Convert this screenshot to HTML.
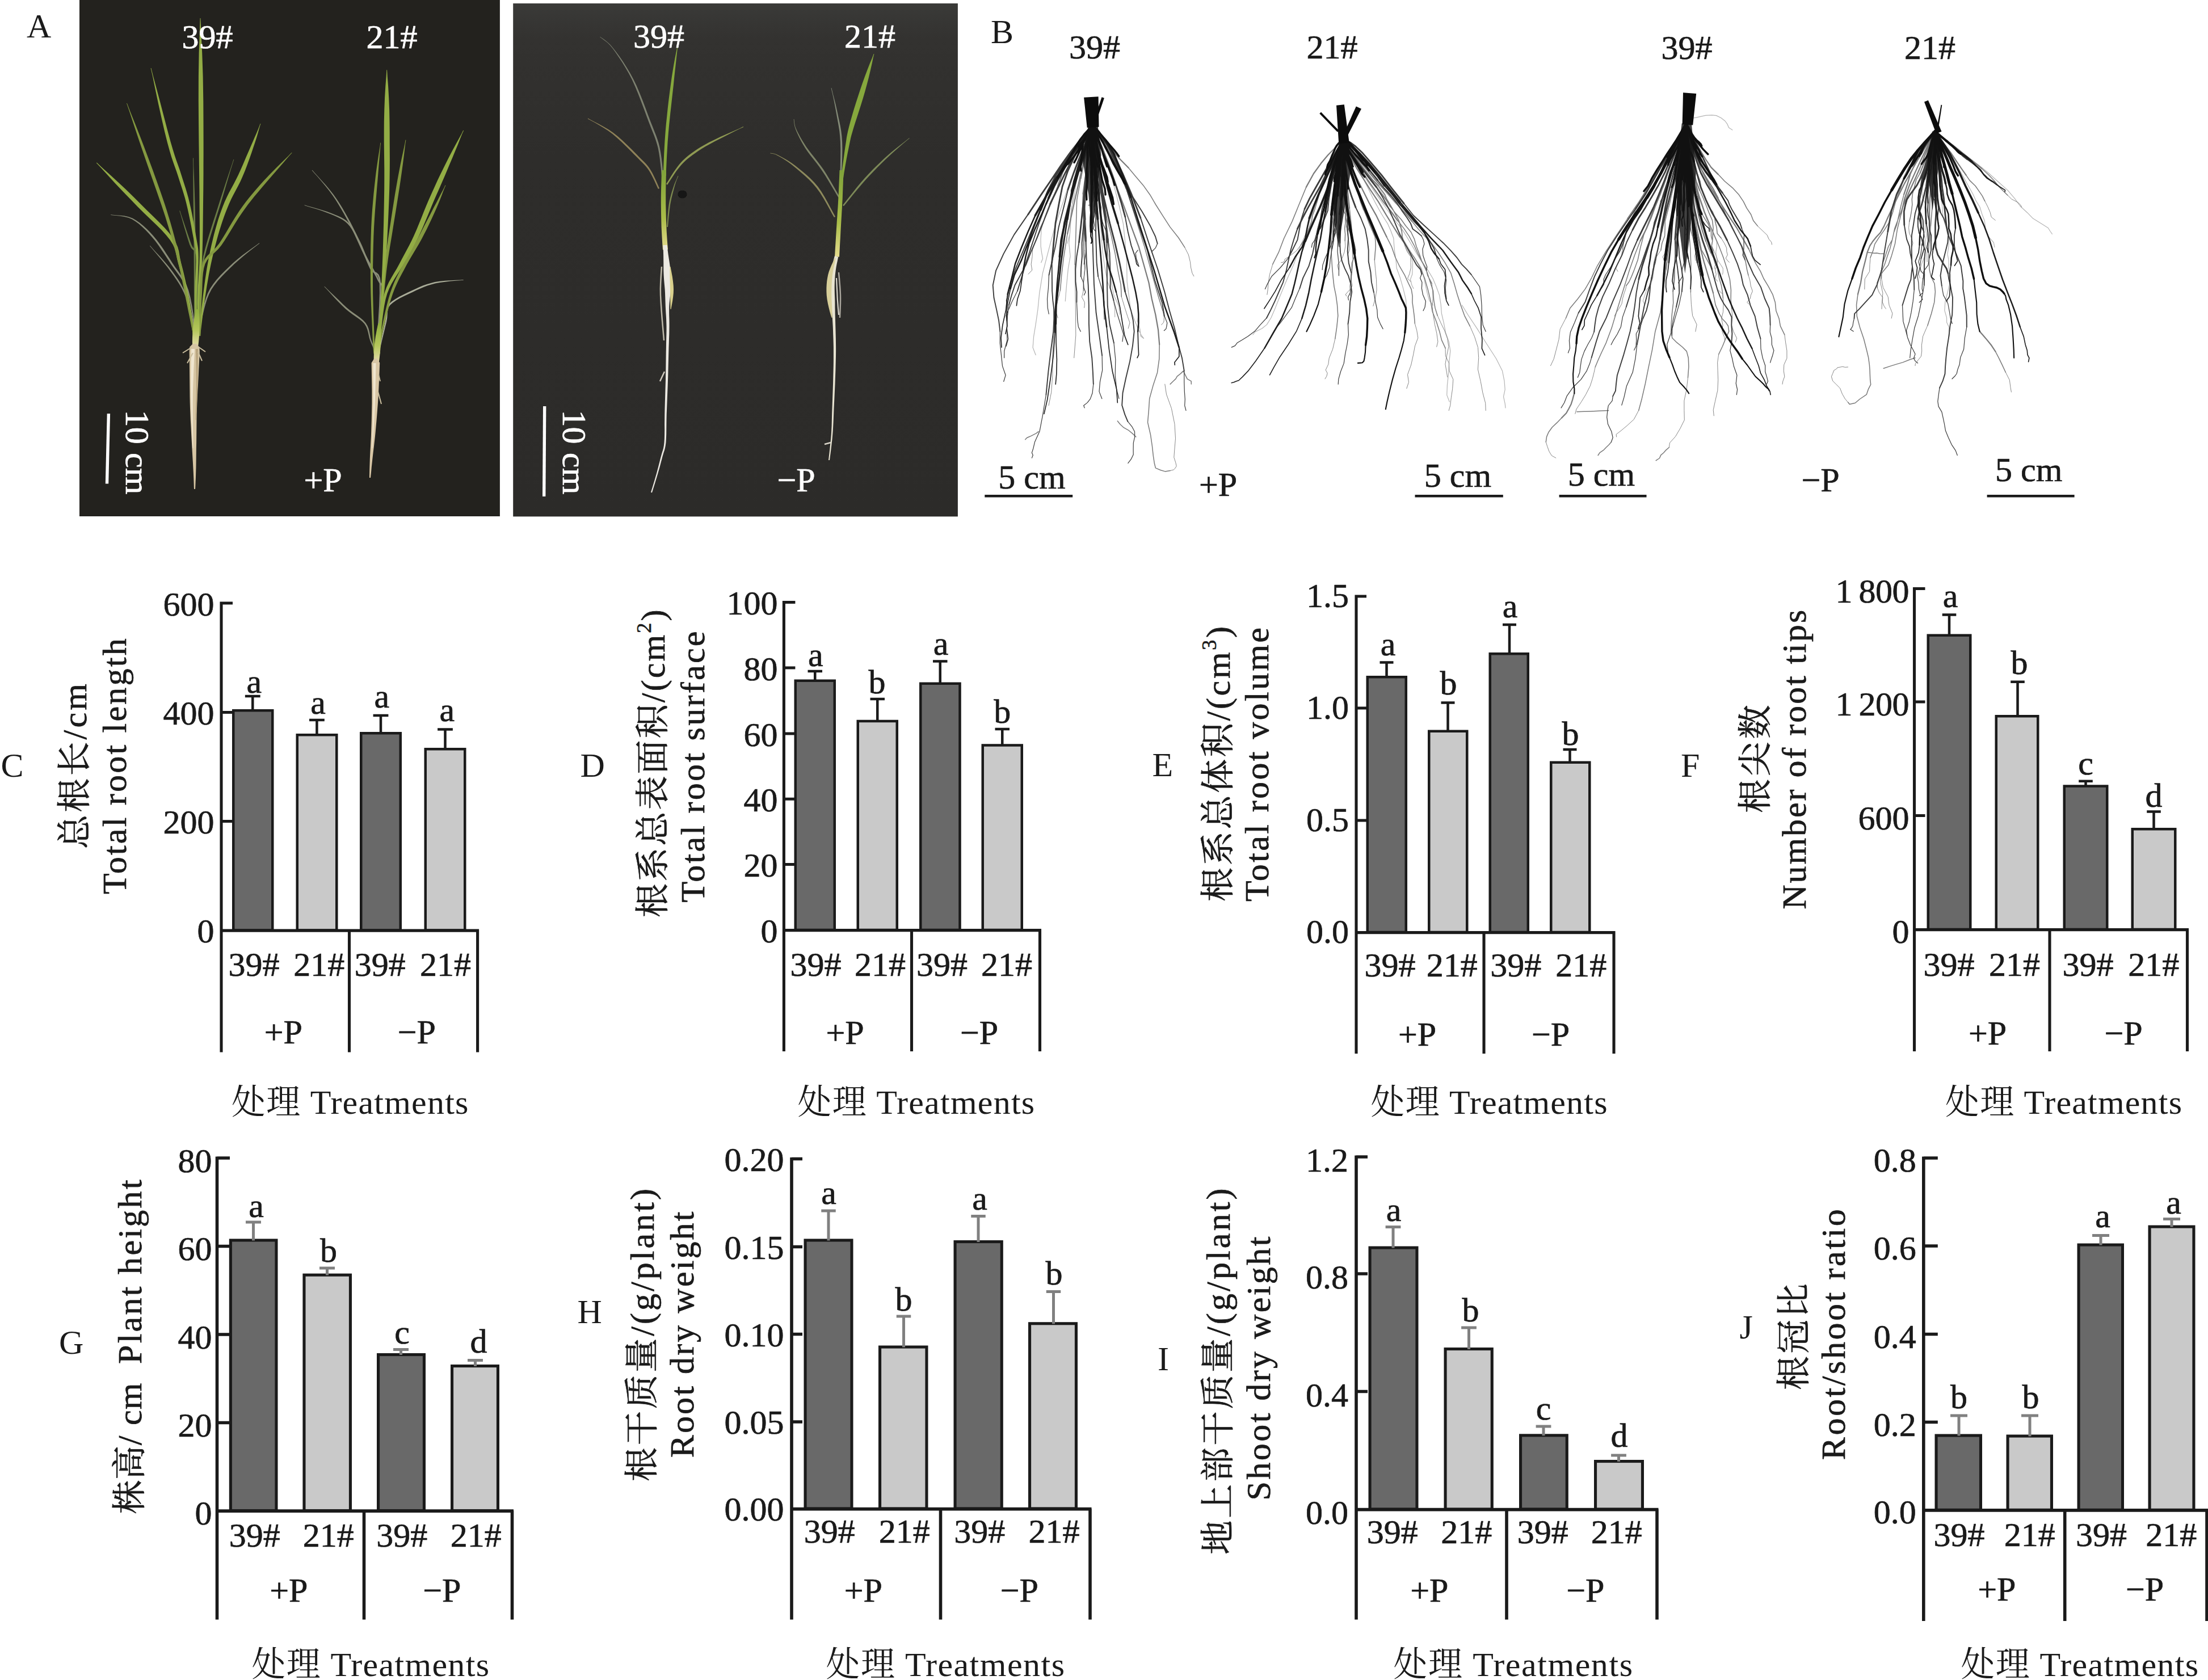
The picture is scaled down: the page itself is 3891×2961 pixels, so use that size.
<!DOCTYPE html>
<html lang="zh">
<head>
<meta charset="utf-8">
<title>Figure</title>
<style>
html,body{margin:0;padding:0;background:#fff;}
body{width:3891px;height:2961px;overflow:hidden;}
svg{display:block;}
text{font-family:"Liberation Serif","Noto Serif CJK SC",serif;font-size:60px;fill:#1a1a1a;stroke:#1a1a1a;stroke-width:0.7px;stroke-linejoin:round;}
.t{stroke:none;}
.w{fill:#fff;stroke:#fff;}
.ax{stroke:#1a1a1a;fill:none;stroke-linecap:butt;}
.bd{fill:#696969;stroke:#1a1a1a;}
.bl{fill:#c9c9c9;stroke:#1a1a1a;}
.ek{stroke:#1a1a1a;fill:none;}
.eg{stroke:#808080;fill:none;}
</style>
</head>
<body>
<svg width="3891" height="2961" viewBox="0 0 3891 2961">
<defs>
<linearGradient id="stemg" x1="0" y1="0" x2="0" y2="1">
<stop offset="0" stop-color="#7fa23a"/><stop offset="0.6" stop-color="#a9bd48"/><stop offset="1" stop-color="#e6dc8e"/>
</linearGradient>
<linearGradient id="crowng" x1="0" y1="0" x2="0" y2="1">
<stop offset="0" stop-color="#8fae3e"/><stop offset="0.55" stop-color="#b4c65a"/><stop offset="1" stop-color="#e9dfb0"/>
</linearGradient>
<linearGradient id="bg2" x1="0" y1="0" x2="0" y2="1">
<stop offset="0" stop-color="#3a3a38"/><stop offset="0.07" stop-color="#333230"/><stop offset="0.3" stop-color="#2e2d2b"/><stop offset="1" stop-color="#2c2b29"/>
</linearGradient>
<filter id="soft" x="-5%" y="-5%" width="110%" height="110%"><feGaussianBlur stdDeviation="0.7"/></filter>
</defs>
<g id="panelA">
<rect x="140" y="0" width="740.9" height="910" fill="#23221e"/>
<rect x="904.2" y="6" width="783.7" height="904.4" fill="url(#bg2)"/>
<g filter="url(#soft)">
<path d="M346 591.9L344.6 582.8L342.9 569.9L340.9 554.8L338.4 539L335.5 524.1L332.2 511.6L328.4 501.6L323.9 493L319.1 485.3L314 478.1L308.8 471L303.7 463.4L298.5 455.3L293 446.9L287.5 438.6L281.8 430.4L276 422.7L270.2 415.7L264.3 409.3L258.3 403.3L252.3 397.7L246.2 392.7L240 388.4L233.7 384.8L226.9 382.3L219.5 380.6L212.1 379.7L205.2 379.2L199.4 378.7L195.2 378.2L195.2 379L199.3 379.5L205.1 380L212 380.7L219.2 382L226.4 383.8L232.9 386.6L238.8 390.2L244.7 394.6L250.6 399.7L256.4 405.3L262.1 411.3L267.8 417.7L273.5 424.6L279.2 432.3L284.8 440.4L290.4 448.7L295.8 457L301.1 465.2L306.4 472.7L311.6 479.9L316.7 486.9L321.5 494.4L325.9 502.7L329.8 512.4L333.2 524.7L336.1 539.4L338.7 555.1L340.9 570.2L342.7 583.1L344 592.1Z" fill="#8a8d78"/>
<path d="M346 591.8L344.3 584.1L342.1 573.3L339.5 560.5L336.5 547.1L333.2 534.3L329.7 523.4L326.1 514.4L322.2 506.4L318 499.1L313.5 492.1L308.6 485.1L303.4 477.8L297.2 469.8L290 461.2L282.3 452.6L275 444.7L268.9 438L264.6 433L264 433.6L268.3 438.5L274.2 445.4L281.1 453.7L288.4 462.5L295.4 471.3L301.4 479.4L306.5 486.6L311.3 493.5L315.8 500.4L319.9 507.6L323.8 515.4L327.5 524.2L331 534.9L334.3 547.6L337.4 561L340.1 573.7L342.3 584.5L344 592.2Z" fill="#8a8d78"/>
<path d="M351 592.1L351.4 588.8L351.9 584.5L352.5 579.3L353.3 573.4L354.5 567L356.1 560.2L357.9 552.9L359.9 544.6L362.2 535.9L364.9 527L368.4 518.4L372.6 510.2L377.9 502.4L384.1 494.6L391 487L398.3 479.5L405.7 472.3L412.9 465.3L420.6 458.4L429 451.2L437.6 444.3L445.6 437.9L452.4 432.7L457.3 428.9L456.9 428.3L451.9 432.1L444.9 437.1L436.6 443L427.7 449.5L419 456.4L411.1 463.3L403.7 470.2L396.2 477.4L388.8 485L381.8 492.7L375.6 500.7L370.2 508.8L365.9 517.3L362.5 526.2L359.8 535.2L357.6 544.1L355.7 552.3L353.9 559.8L352.4 566.6L351.3 573.1L350.5 579L349.9 584.3L349.4 588.6L349 591.9Z" fill="#8a8d78"/>
<path d="M351 592L351.2 584.1L351.3 573.2L351.6 560.2L351.9 546.4L352.4 532.6L353.2 520.1L353.9 508.9L354.6 498.3L355.4 487.8L356.6 477L358.3 465.5L360.9 452.7L364.5 438.3L369 422.4L374.2 405.7L379.5 388.8L384.6 372.5L389.3 357.4L393.7 342.7L398.1 327.7L402.4 313.3L406.3 300.1L409.7 289.2L412.3 281.1L411.5 280.9L409 288.9L405.4 299.8L401 312.8L396.3 327.1L391.4 342L386.7 356.6L381.9 371.7L376.6 387.9L371.3 404.8L366.2 421.5L361.7 437.5L358.1 452.1L355.6 465L353.9 476.7L352.8 487.5L352.1 498.1L351.5 508.7L350.8 519.9L350.2 532.5L349.8 546.3L349.5 560.2L349.3 573.2L349.2 584.1L349 592Z" fill="#6b7d45"/>
<path d="M344 592L344 572.5L344.1 545.2L344.3 513L344.4 478.9L344.5 445.8L344.4 416.7L344.1 389.9L343.6 362.8L342.8 336.7L342 313L341.2 293.2L340.9 278.6L340.1 278.6L340.4 293.2L340.4 313L340.6 336.7L340.8 362.8L341.1 390L341.4 416.7L341.6 445.8L341.8 478.9L341.9 513L342 545.2L342 572.5L342 592Z" fill="#6b7d45"/>
<path d="M346 592L346.5 576.4L347.3 553.8L348.3 527.6L349.2 500.9L349.5 477.1L349.2 459.4L348.1 448.8L346.4 442.8L344.1 439.6L341.8 437.8L339.6 435.5L337.1 430.5L334 421.7L330.3 410.9L326.3 399.1L322.5 387.8L319.2 378.1L317.1 371.3L316.3 371.5L318.5 378.4L321.3 388.2L324.6 399.7L328.1 411.6L331.4 422.6L334.3 431.5L337 437.2L339.7 440.1L341.9 441.8L343.5 444.1L345 449.3L346 459.6L346.4 477.1L346.3 500.8L345.8 527.5L345.1 553.8L344.4 576.3L344 592Z" fill="#6b7d45"/>
<path d="M343.5 591.7L343.4 591.3L343.3 591.2L343.3 591.1L343.1 590L342.7 587.5L342 583.1L340.9 576.1L339.6 567L338.1 556.5L336.5 545.2L334.7 534L332.8 523.4L330.8 513.3L328.6 502.9L326.3 492.5L323.9 482.3L321.5 472.6L319.2 463.7L317.4 455.8L316.2 448.9L315 442.2L313.1 435.3L309.9 427.9L304.9 419.6L298 410.6L289.6 401.1L280 391.2L269.6 381L258.7 370.4L247.7 359.4L235.2 347.1L220.9 333.1L205.8 319L191.4 305.8L179.1 294.7L170.5 286.6L169.9 287.2L178 295.8L189.2 308.1L202.4 322.4L216.6 337.4L230.5 351.8L242.7 364.4L253.8 375.4L264.8 386L275.2 396.1L284.8 405.6L293.1 414.7L299.9 423.2L304.6 430.7L307.6 437.3L309.5 443.5L310.8 449.9L312.2 456.9L314.2 464.9L316.8 473.9L319.4 483.5L322 493.5L324.5 503.8L327 514.1L329.2 524.2L331.2 534.6L333.2 545.8L335 557L336.6 567.5L337.9 576.5L339 583.5L339.7 588L340.2 590.5L340.4 591.7L340.5 592.1L340.5 592L340.5 592.3Z" fill="#93ad45"/>
<path d="M344.4 591.5L344.2 590.9L343.9 590.5L343.7 590.1L343.4 589L342.8 586.8L342 583L340.9 577.6L339.5 570.9L338 563.1L336.3 554.5L334.5 545.1L332.6 535.4L330.7 524.8L328.6 513.3L326.3 501.1L324 488.6L321.5 476L318.9 463.8L316.1 451.8L313.2 439.9L310.2 428L307 416L303.7 404L300.3 392.1L296.9 380.9L293.8 370.7L290.5 360.5L286.7 349.3L282.2 336.3L276.6 320.4L269.1 299.5L259.6 273.9L249.2 246.5L238.9 220.2L229.9 197.7L223.9 181.9L223.1 182.1L228.7 198.2L236.2 221.1L245.2 248L254.7 275.7L263.6 301.5L271 322.4L276.5 338.2L281 351.2L284.8 362.3L288.2 372.5L291.5 382.6L294.9 393.7L298.5 405.6L302 417.4L305.3 429.3L308.5 441.1L311.6 453L314.5 464.8L317.3 476.9L320 489.4L322.6 501.9L325 514L327.2 525.5L329.4 536L331.3 545.8L333.2 555.1L335 563.7L336.5 571.5L337.9 578.2L339 583.6L339.9 587.4L340.5 589.8L340.9 591.2L341.3 591.9L341.5 592.1L341.6 592.5Z" fill="#84993f"/>
<path d="M347.5 592L347.4 584.1L347.1 573.1L346.9 560.2L346.7 546.3L346.6 532.6L346.7 520L347.1 508.2L347.8 496.1L348.5 484L349.2 472.5L349.7 461.8L349.8 452.4L349.6 444.8L349.2 438.8L348.5 433.7L347.6 428.7L346.6 423.2L345.4 416.3L343.9 407.5L342.2 397.6L340.2 387.1L338.2 376.3L336 365.9L333.8 356.3L331.7 347.7L329.5 339.9L327.2 332.3L324.8 324.8L322.3 317L319.6 308.6L316.9 300.1L314.1 292.1L311.2 283.9L308 274.6L304.5 263.3L300.4 249.2L295.3 230.2L289.1 206.5L282.4 180.8L275.8 156L270.1 134.8L266.4 119.9L265.6 120.1L269.1 135.1L273.5 156.6L278.8 181.7L284.5 207.6L290 231.6L294.8 250.8L298.7 265L302.1 276.4L305.3 285.9L308.2 294.2L311 302.1L313.8 310.4L316.5 318.9L319 326.7L321.4 334.1L323.7 341.6L326 349.3L328.2 357.7L330.4 367.1L332.7 377.5L334.9 388.1L337 398.6L338.8 408.5L340.4 417.1L341.8 424.1L342.9 429.6L343.8 434.4L344.5 439.3L345 445L345.4 452.4L345.4 461.7L345.1 472.3L344.6 483.8L344 495.9L343.5 508L343.3 520L343.3 532.6L343.5 546.4L343.8 560.3L344.1 573.2L344.3 584.1L344.5 592Z" fill="#93ad45"/>
<path d="M350.6 592L350.7 584.1L350.8 573.2L350.9 560.3L351.1 546.4L351.4 532.6L351.8 520.1L352.4 508.9L353.2 498.4L354 488L354.9 477.2L355.7 465.4L356.3 452.1L356.8 437L357.2 420.5L357.5 403L357.7 385.1L357.9 367.3L358.1 350L358.3 334.6L358.4 320.9L358.5 307.2L358.5 292L358.6 273.5L358.6 250L358.5 217.9L358.3 178L357.6 134.7L356.2 92.9L354.5 57.1L353.4 32L352.6 32L351.8 57.1L350.6 92.9L349.9 134.8L349.8 178L350.1 218L350.4 250L350.7 273.5L350.9 292L351.1 307.3L351.2 320.9L351.4 334.6L351.5 350L351.6 367.3L351.8 385.1L351.9 403L351.9 420.4L351.9 436.9L351.7 451.9L351.3 465.1L350.7 476.9L350 487.7L349.3 498.2L348.6 508.7L348.2 519.9L347.9 532.6L347.7 546.3L347.6 560.2L347.5 573.2L347.5 584.1L347.4 592Z" fill="#93ad45"/>
<path d="M352.5 592.4L352.5 592.2L352.4 592.4L352.7 591.7L352.9 590.5L353.3 588L353.9 583.5L354.7 576.5L355.8 567.4L357.1 556.9L358.5 545.7L360 534.5L361.5 524.1L363 514.2L364.5 504.3L366.2 494.4L367.9 484.6L369.8 474.7L371.8 464.9L374 454.9L376.4 444.7L379 434.6L381.6 424.6L384.2 415L386.9 405.8L389.6 397.3L392.2 389.2L394.9 381.5L397.7 373.9L400.7 366.4L403.9 358.7L407.4 351L411.2 343.5L415.2 336L419.3 328.2L423.5 319.9L427.5 311.1L431.5 301.5L435.5 290.9L439.5 280L443.3 269.3L446.6 259.3L449.5 250.7L451.9 243.3L453.9 236.5L455.6 230.6L457 225.4L458.3 221.3L459.4 218.1L458.6 217.9L457.5 221L456 225.1L454 230L451.6 235.7L448.8 242.1L445.7 249.3L442.1 257.6L437.9 267.2L433.4 277.6L428.9 288.2L424.4 298.5L420.1 307.9L416 316.3L411.9 324.3L407.7 332L403.6 339.6L399.7 347.4L396.1 355.3L392.9 363.3L390 371L387.2 378.8L384.6 386.8L382.2 395L379.7 403.8L377.2 413.1L374.8 422.9L372.4 433L370.2 443.3L368.1 453.6L366.2 463.7L364.4 473.7L362.9 483.7L361.4 493.7L360.1 503.6L358.8 513.6L357.5 523.5L356.3 534.1L355 545.3L353.8 556.5L352.7 567.1L351.7 576.1L350.9 583.1L350.3 587.6L350 590.1L349.8 591L349.9 590.8L349.7 591.1L349.5 591.6Z" fill="#93ad45"/>
<path d="M353.5 592L353.7 584L353.9 572.8L354.2 559.5L354.6 545.5L355.1 532L355.8 520.1L356.3 509.6L356.6 499.5L357.1 489.8L357.9 480.8L359.3 472.6L361.5 465.1L364.7 458.9L368.7 454L373.4 449.4L378.7 444.8L384.4 439.3L390 432.5L395.7 424.1L401.7 414.6L407.8 404.5L414 394.3L420.1 384.4L426.2 375.4L431.9 367.4L437.3 360.1L442.7 353.2L448.4 346.1L454.6 338.7L461.5 330.4L470 320.5L480 309.1L490.4 297.1L500.2 285.7L508.5 276L514.6 269.3L514 268.7L507.8 275.3L498.6 284.2L487.9 294.8L476.8 306.1L466.3 317.1L457.5 326.8L450.3 335L444 342.5L438.2 349.5L432.7 356.6L427.2 364L421.4 372.2L415.4 381.4L409.2 391.4L403.1 401.7L397.1 411.9L391.4 421.3L386 429.5L380.7 436L375.5 441.3L370.3 446L365.3 450.9L361 456.5L357.5 463.5L355.2 471.6L353.8 480.4L353.1 489.6L352.8 499.3L352.6 509.5L352.2 519.9L351.8 531.8L351.4 545.4L351.1 559.4L350.9 572.7L350.7 583.9L350.5 592Z" fill="#84993f"/>
<path d="M345.3 544.8L344.6 548L343.8 552.3L342.8 557.4L341.9 563L341 568.9L340.3 574.7L339.7 580.9L339.3 587.9L339 595.1L338.9 601.9L339 607.6L339.2 611.7L348.8 612.3L349.4 608.2L350.1 602.4L350.7 595.7L351.2 588.5L351.6 581.5L351.7 575.3L351.7 569.6L351.6 563.7L351.4 558L351.2 552.8L350.9 548.4L350.7 545.2Z" fill="url(#crowng)"/>
<path d="M339.7 605.9L334.3 611.6L333.7 619.6L333.8 629.1L333.9 639.4L334 649.9L334.1 659.9L334.2 669.5L334.3 679.4L334.4 689.5L334.5 699.7L334.7 709.9L335 720L335.4 730.2L335.8 740.5L336.4 750.7L336.9 760.8L337.4 770.7L337.9 780.1L338.4 789.2L338.9 798.1L339.4 806.8L339.9 815.1L340.3 822.9L340.7 830L341 836.8L341.3 843.2L341.5 849.1L341.7 854.4L341.8 858.7L342 862L344 862L344.2 858.7L344.4 854.4L344.6 849.1L344.9 843.2L345.1 836.7L345.3 830L345.5 822.8L345.6 815L345.7 806.7L345.8 798L345.9 789L346.1 779.9L346.2 770.5L346.3 760.6L346.4 750.5L346.5 740.3L346.7 730.1L347 720L347.4 710L347.8 699.9L348.3 689.8L348.9 679.7L349.4 669.8L349.9 660.1L350.3 650.2L350.9 639.7L351.4 629.4L351.8 619.9L351.4 612L346.3 606.1Z" fill="#d6c5a3"/>
<path d="M337 614.9L336.9 624.1L336.6 636.8L336.4 651.8L336.2 668.1L336.1 684.5L336.2 700L336.6 715.8L337.1 733L337.8 750.3L338.5 766.5L339.1 780.2L339.5 790L340.5 790L340.4 780.1L340.2 766.5L339.9 750.3L339.8 732.9L339.7 715.7L339.8 700L340.1 684.6L340.7 668.2L341.3 651.9L342 636.9L342.6 624.3L343 615.1Z" fill="#f0e6d0"/>
<path d="M345 615L345.1 622.1L345.3 632L345.5 643.8L345.6 656.3L345.8 668.7L345.8 680L345.7 691L345.5 702.6L345.2 714L344.9 724.6L344.7 733.5L344.5 740L345.5 740L345.8 733.6L346.3 724.7L346.8 714.1L347.4 702.6L347.8 691L348.2 680L348.5 668.7L348.7 656.3L348.8 643.7L348.9 632L348.9 622.1L349 615Z" fill="#b9a57f"/>
<path d="M322 622L338 612M362 620L349 611M330 640L340 622M356 636L349 620" stroke="#cbbf9f" stroke-width="2" fill="none"/>
<path d="M664.3 623.4L665.6 610.9L667.6 592.7L669.8 571.6L672 550.1L673.7 530.9L674.6 516.7L674.7 508.2L674.2 503.2L673.2 500.4L671.7 498.6L670 496.7L667.9 492.7L665 486.8L661.5 480.2L657.5 473.1L653.2 465.5L648.9 457.5L644.6 449.3L640.5 440.6L636.2 431.2L631.8 421.5L627.3 411.6L622.7 401.9L618 392.7L613.2 383.9L608.3 375.3L603.4 366.8L598.3 358.6L593 350.6L587.5 342.7L581.2 334.7L574.1 326.3L566.8 318.2L560.1 310.7L554.4 304.4L550.3 299.7L549.7 300.3L553.8 304.9L559.5 311.3L566.1 318.9L573 327.2L579.8 335.8L585.9 343.9L591.2 351.8L596.3 359.9L601.2 368.2L606 376.6L610.7 385.2L615.4 394L620 403.2L624.6 412.9L629.1 422.7L633.5 432.5L637.8 441.9L642 450.7L646.3 458.9L650.7 466.9L655 474.4L659 481.5L662.6 488L665.5 493.9L667.8 498.1L669.8 500.4L670.9 501.7L671.7 503.7L672.1 508.2L672.1 516.6L671.3 530.8L669.7 549.9L667.7 571.3L665.5 592.5L663.6 610.7L662.3 623.2Z" fill="#8a8d78"/>
<path d="M664.3 623.4L665.3 608.9L667 587.9L668.8 563.4L670.5 538.6L671.4 516.4L671.3 499.9L669.9 489.9L667.5 483.9L664.2 480.7L660.7 478.9L657.6 476.8L654.6 472.6L651.5 466L648.3 458.2L644.9 449.9L641.5 441.4L638.1 433.3L634.7 426L631.4 419.5L628.3 413.3L625.2 407.4L621.9 401.9L618.3 396.9L614.3 392.4L609.9 388.6L605.4 385.4L600.5 382.8L595.4 380.5L589.8 378.2L583.7 375.8L576.3 373.1L567.5 370.3L558.3 367.6L549.5 365.1L542.1 362.9L536.8 361.3L536.5 362L541.8 363.7L549.3 365.9L558 368.6L567.1 371.6L575.7 374.7L583 377.6L589 380.1L594.5 382.5L599.5 384.9L604 387.5L608.3 390.6L612.4 394.3L616.2 398.6L619.6 403.5L622.7 408.8L625.7 414.6L628.8 420.8L632 427.3L635.3 434.5L638.7 442.5L642.2 451L645.5 459.3L648.9 467.1L652.1 474L655.6 478.8L659.3 481.3L662.5 483L665.1 485.4L667.3 490.5L668.7 500.1L668.9 516.4L668.1 538.5L666.6 563.3L664.9 587.7L663.3 608.7L662.3 623.3Z" fill="#8a8d78"/>
<path d="M664.2 622.9L663.2 620.5L661.7 617.1L659.9 613.1L658 608.7L656.1 604.1L654.4 599.6L653 595.1L652 590.1L651 584.9L649.6 579.6L647.5 574.3L644.4 569.2L640.1 564.5L635 560.2L629.3 556L623.2 551.7L617 547.2L611 542.2L604.4 536.2L597.1 529.1L589.5 521.8L582.3 514.9L576.2 509L572 504.7L571.4 505.3L575.6 509.6L581.3 515.8L588 523.2L595.3 530.9L602.5 538.2L609 544.4L615.2 549.6L621.5 554.2L627.6 558.4L633.3 562.4L638.2 566.5L642.3 570.8L645.2 575.5L647.2 580.4L648.6 585.5L649.7 590.6L650.8 595.6L652.3 600.4L654.1 604.9L656.1 609.5L658 614L659.8 617.9L661.3 621.3L662.4 623.7Z" fill="#8a8d78"/>
<path d="M667.6 623.6L669.2 617.1L671.4 607.9L673.9 597.1L676.6 585.9L679.1 575.5L681.2 566.9L682.3 560.2L682.7 554.5L682.9 549.7L683.5 545.5L684.9 541.6L687.7 537.6L692.3 533.4L698.3 529.3L705.3 525.3L712.8 521.6L720.3 518L727.3 514.7L733.8 511.6L740.2 508.7L746.6 506L753 503.6L759.8 501.4L766.9 499.5L775.2 498L784.5 496.7L794.2 495.6L803.4 494.7L811.1 494.2L816.7 493.7L816.6 492.9L811.1 493.4L803.3 493.8L794.1 494.2L784.4 494.8L774.8 495.8L766.4 497.1L759.1 498.9L752.1 501L745.5 503.3L739 506L732.6 508.9L726 512L719 515.3L711.4 518.9L703.9 522.8L696.8 526.9L690.5 531.2L685.6 535.8L682.5 540.4L680.9 544.9L680.4 549.5L680.2 554.4L679.9 559.9L678.8 566.4L676.9 575L674.5 585.4L671.9 596.6L669.4 607.4L667.2 616.6L665.7 623.1Z" fill="#a9ac98"/>
<path d="M661.5 623.2L661.3 621.5L661.1 619.9L660.9 617.8L660.6 614.2L660.2 608.5L659.9 599.9L659.4 587.7L658.8 572.3L658.1 554.7L657.6 536.1L657.1 517.5L657 500L657 483.1L657.2 466.1L657.5 449L657.9 432.2L658.4 415.8L659.1 400.1L660 385.1L661 370.5L662.1 356.4L663.3 342.7L664.4 329.5L665.5 316.9L666.5 304.2L667.5 291.4L668.6 279.1L669.5 267.9L670.3 258.6L671.1 251.7L670.3 251.6L669.5 258.5L668 267.8L666.3 278.8L664.5 291.1L662.7 303.8L661.2 316.5L659.8 329.1L658.4 342.2L657.2 355.9L656 370.1L655 384.8L654.2 399.9L653.7 415.6L653.2 432L653 448.9L652.8 466L652.9 483.1L653 500L653.4 517.6L654 536.2L654.8 554.9L655.6 572.4L656.3 587.8L656.8 600.1L657.2 608.7L657.6 614.4L657.9 618.1L658.1 620.3L658.3 621.9L658.5 623.5Z" fill="#84993f"/>
<path d="M666.5 623.4L666.6 621.4L666.7 619L666.9 615.9L667.2 612L667.6 606.8L668.2 600.1L669 591.5L670.1 581.1L671.3 569.5L672.6 557.3L674 545.1L675.2 533.5L676.4 522.4L677.5 511.3L678.6 500.2L679.8 489.1L681 478L682.4 467L683.9 456.1L685.5 445.4L687.2 434.8L689 423.9L690.9 412.5L692.8 400.4L694.9 387.4L697.2 373.4L699.5 359L701.8 344.6L704 330.4L706 317.1L707.9 303.8L709.8 290.1L711.5 276.7L713 264.5L714.2 254.2L715.4 246.7L714.6 246.6L713.3 254.1L711.1 264.2L708.5 276.2L705.7 289.4L703.1 303L700.6 316.2L698.3 329.5L695.9 343.6L693.6 358.1L691.3 372.5L689.2 386.5L687.2 399.6L685.3 411.6L683.6 423L681.9 434L680.4 444.7L679 455.4L677.6 466.4L676.4 477.5L675.3 488.7L674.3 499.8L673.4 510.9L672.4 522L671.5 533.1L670.4 544.8L669.2 557L668 569.2L666.9 580.8L665.9 591.2L665.1 599.9L664.6 606.5L664.2 611.7L663.9 615.7L663.7 618.8L663.6 621.2L663.5 623.2Z" fill="#84993f"/>
<path d="M668.1 623.6L668.8 619.5L669.5 614.2L670.5 607.7L671.7 600.4L673.1 592.3L674.9 583.7L677.1 573.9L679.7 562.9L682.5 551.1L685.6 539.2L688.8 527.7L692.2 517.4L695.7 508.2L699.5 499.7L703.4 491.6L707.5 483.7L711.7 475.9L715.9 468L720.2 460.2L724.6 452.7L729.2 445.1L733.7 437.5L738.3 429.7L742.9 421.5L747.4 412.8L752.1 403.7L756.6 394.3L761 385L765.1 376L768.8 367.7L772.3 359.6L775.6 351.6L778.6 343.8L781.2 336.8L783.5 331L785.4 326.8L784.6 326.5L782.7 330.7L779.9 336.2L776.4 342.8L772.6 350.2L768.6 357.9L764.5 365.6L760.3 373.7L755.8 382.4L751.1 391.5L746.3 400.8L741.7 409.8L737.1 418.5L732.7 426.5L728.2 434.3L723.8 441.9L719.3 449.6L714.9 457.3L710.7 465.3L706.6 473.3L702.6 481.2L698.6 489.2L694.8 497.6L691.2 506.4L687.8 515.9L684.6 526.5L681.6 538.1L678.7 550.2L676.1 562.1L673.8 573.2L671.7 583L670 591.7L668.6 599.9L667.5 607.3L666.5 613.7L665.8 619.1L665.2 623.1Z" fill="#84993f"/>
<path d="M661.9 623.8L662.1 624.5L662.5 627.1L663 629.9L666.3 630.3L667.2 626.3L668.2 616.8L669.6 599.9L671.4 576.8L673.5 549.7L675.7 520.9L677.7 492.5L679.5 466.8L681 443.2L682.4 419.9L683.6 397L684.6 374.8L685.5 353.5L686.2 333.4L686.6 314.9L686.8 297.9L686.9 281.8L686.8 266.1L686.7 250.2L686.7 233.3L686.5 214.3L686.1 193.3L685.2 172.1L684.1 152.2L682.8 135.4L682.1 123.3L681.3 123.3L680.6 135.4L679.3 152.2L678.1 172.1L677.3 193.3L676.8 214.3L676.7 233.3L676.7 250.2L676.9 266.2L677.1 281.9L677.3 297.9L677.3 314.8L677.2 333.2L676.9 353.3L676.5 374.6L676 396.7L675.4 419.6L674.7 442.9L673.8 466.5L672.7 492.2L671.2 520.6L669.6 549.5L668 576.5L666.4 599.6L665.1 616.5L664.2 626L663.5 629.2L665.8 628.9L665.4 626.7L665.1 624L664.8 622.9Z" fill="#93ad45"/>
<path d="M669.8 623.4L669.9 619.3L670 614L670.1 607.5L670.3 600.2L670.8 592.1L671.6 583.5L672.7 573.7L673.9 562.7L675.4 550.9L677.2 539L679.5 527.6L682.3 517.4L685.9 508.4L690.1 500L694.8 492.1L699.7 484.3L704.7 476.4L709.6 468.3L714.1 460.1L718.7 452.2L723.3 444.3L727.8 436.1L732.4 427.6L737 418.4L741.6 408.6L746.1 398.3L750.5 387.7L755 376.9L759.5 366L764.1 355.1L768.9 344.1L773.9 332.8L778.9 321.3L783.8 309.9L788.5 298.8L793 288.1L797.6 277.2L802.2 265.9L806.8 254.9L810.8 244.8L814.2 236.3L817 230.2L816.3 229.8L813.4 235.8L808.9 243.9L803.7 253.4L798 263.9L792.3 274.8L787 285.3L781.8 295.7L776.5 306.6L771.1 317.8L765.9 329.2L760.8 340.5L755.9 351.5L751.2 362.5L746.7 373.5L742.4 384.4L738.1 395L733.9 405.2L729.6 414.9L725.4 424L721.1 432.5L716.7 440.7L712.4 448.8L708.1 456.8L703.8 465.1L699.3 473.2L694.6 481.1L689.8 489.2L685.2 497.5L681.1 506.4L677.7 515.9L675 526.6L673 538.3L671.5 550.4L670.3 562.3L669.3 573.4L668.4 583.2L667.6 591.9L667.2 600.1L667 607.5L666.9 613.9L666.9 619.3L666.8 623.3Z" fill="#93ad45"/>
<path d="M666.5 569.7L665.8 572.8L664.9 577.1L663.8 582.1L662.8 587.7L661.7 593.6L660.9 599.6L660.1 606.1L659.4 613.7L658.9 621.5L658.7 628.9L658.6 635.2L658.6 639.7L667.4 640.3L668.1 635.9L668.9 629.6L669.7 622.3L670.4 614.5L670.8 607L671.1 600.4L671.3 594.5L671.5 588.6L671.5 582.9L671.6 577.8L671.5 573.4L671.5 570.3Z" fill="url(#crowng)"/>
<path d="M659.4 632L654.6 639.4L654.8 649.9L655 662.2L655.2 675.3L655.4 688.2L655.4 699.8L655.4 710.4L655.2 720.7L655 730.9L654.8 740.8L654.5 750.4L654.2 759.8L653.9 768.9L653.4 777.8L653 786.5L652.5 794.8L652.1 802.6L651.8 809.8L651.6 816.6L651.4 823.1L651.2 829L651.1 834.3L651 838.7L651 841.9L653 842.1L653.3 838.8L653.8 834.4L654.3 829.2L654.8 823.3L655.5 816.9L656.2 810.2L657 803L657.9 795.3L658.9 787L659.9 778.3L660.9 769.4L661.8 760.2L662.6 750.9L663.5 741.3L664.3 731.4L665.1 721.2L665.9 710.8L666.6 700.2L667.2 688.5L667.8 675.5L668.3 662.3L668.8 650L669.2 639.6L664.6 632Z" fill="#d9c7a6"/>
<path d="M657.5 640L657.5 648.8L657.6 661.1L657.7 675.6L657.7 691.1L657.7 706.3L657.6 720L657.3 733L657 746.6L656.5 760L656.1 772.2L655.8 782.5L655.5 790L656.5 790L656.9 782.5L657.6 772.3L658.3 760L659.1 746.7L659.8 733.1L660.4 720L660.9 706.3L661.3 691.1L661.7 675.6L662 661.1L662.3 648.8L662.5 640Z" fill="#f0e6d0"/>
<path d="M666 690L672 712M667 660L670 672" stroke="#cbbf9f" stroke-width="2" fill="none"/>
<path d="M1169 309.8L1168.4 304.4L1167.7 296.7L1166.8 287.6L1165.6 277.9L1164.2 268.4L1162.5 259.7L1160.6 252.1L1158.4 245.2L1156 238.5L1153.2 231.4L1150.1 223.6L1146.5 214.4L1142.3 203.5L1137.7 190.9L1132.6 177.6L1127.2 164.1L1121.7 151.1L1116.1 139.4L1110.3 128.7L1104.1 118.4L1097.8 108.6L1091.6 99.6L1085.7 91.5L1080.4 84.7L1075.6 79.1L1071 74.7L1066.8 71.2L1063.1 68.6L1060 66.4L1057.7 64.7L1057.3 65.3L1059.6 67.1L1062.6 69.2L1066.3 71.9L1070.5 75.3L1075 79.7L1079.6 85.3L1084.7 92.3L1090.3 100.4L1096.3 109.6L1102.4 119.4L1108.3 129.8L1113.9 140.6L1119.2 152.2L1124.6 165.2L1129.8 178.7L1134.8 192L1139.4 204.6L1143.5 215.6L1147.1 224.8L1150.2 232.6L1153 239.6L1155.4 246.3L1157.5 253L1159.5 260.3L1161.2 268.9L1162.6 278.3L1163.7 288L1164.7 297L1165.4 304.7L1166 310.2Z" fill="#7d8170"/>
<path d="M1162.1 332L1160.4 328.3L1158.2 323.2L1155.4 317.1L1152.4 310.7L1149.3 304.5L1146.2 299.2L1143.4 295L1140.7 291.6L1137.9 288.3L1134.8 285L1130.9 281.2L1126.1 276.4L1120.1 270.3L1112.9 263.1L1105.1 255.4L1096.8 247.6L1088.6 240.3L1080.7 234L1072.7 228.5L1064.1 223.4L1055.5 218.8L1047.6 214.8L1041 211.3L1036.2 208.6L1035.8 209.4L1040.6 212L1047.2 215.5L1054.9 219.9L1063.2 224.9L1071.5 230.3L1079.3 236L1086.9 242.4L1094.9 249.8L1102.9 257.6L1110.7 265.3L1117.8 272.5L1123.9 278.6L1128.7 283.4L1132.6 287.2L1135.7 290.4L1138.4 293.4L1141 296.8L1143.8 300.8L1146.9 305.9L1150 311.9L1153.1 318.2L1155.8 324.2L1158.2 329.4L1159.9 333Z" fill="#8f8258"/>
<path d="M1176.1 325.7L1178.2 322.3L1181.3 317.5L1184.9 312L1188.8 306.1L1192.6 300.6L1196.2 295.9L1199.4 292.1L1202.3 288.8L1205.3 285.7L1208.4 282.8L1211.9 279.7L1216.1 276.4L1220.7 272.9L1225.7 269.4L1231 265.8L1236.8 262.1L1243.4 258.1L1250.8 253.9L1259.9 249L1270.9 243.4L1282.6 237.5L1293.8 231.8L1303.4 227.1L1310.2 223.9L1309.8 223.1L1303 226.4L1293.3 230.7L1281.8 235.7L1269.8 241.1L1258.6 246.4L1249.2 251.1L1241.7 255.2L1235 259.1L1229 262.8L1223.6 266.5L1218.6 270L1213.9 273.6L1209.7 277L1206.1 280.2L1202.9 283.3L1199.9 286.6L1196.9 290.1L1193.8 294.1L1190.2 298.9L1186.4 304.6L1182.6 310.5L1179.1 316.2L1176.1 320.9L1173.9 324.3Z" fill="#8f9a52"/>
<path d="M1177 400.1L1177.4 395.6L1177.9 389.3L1178.6 382L1179.4 374.2L1180.3 366.7L1181.2 360.2L1182.3 354.6L1183.4 349.2L1184.7 344L1185.9 339.2L1187.2 334.6L1188.3 330.3L1189.5 326.1L1190.8 322.1L1192.1 318.3L1193.4 315L1194.6 312.2L1195.4 310.1L1194.6 309.9L1193.8 311.9L1192.7 314.7L1191.3 318L1189.7 321.6L1188.1 325.6L1186.7 329.7L1185.3 334L1183.8 338.6L1182.4 343.5L1181.1 348.6L1179.8 354.1L1178.8 359.8L1177.9 366.4L1177.1 374L1176.4 381.8L1175.9 389.2L1175.4 395.4L1175 399.9Z" fill="#7d8a50"/>
<path d="M1173.5 310.1L1173.8 303.5L1174.2 294.2L1174.7 283.2L1175.3 271.6L1176 260.3L1176.6 250.2L1177.3 241.6L1177.9 233.7L1178.6 226.2L1179.3 218.4L1180.2 209.9L1181.2 200.3L1182.5 189L1183.9 176.2L1185.4 162.8L1186.9 149.4L1188.2 136.6L1189.4 125.3L1190.6 114.9L1191.7 104.8L1192.7 95.5L1193.7 87.1L1194.6 80.2L1195.4 75.1L1194.6 74.9L1193.8 80.1L1192.5 86.9L1190.9 95.2L1189.1 104.4L1187.3 114.4L1185.6 124.7L1183.8 136.1L1182 148.8L1180.2 162.2L1178.5 175.6L1177 188.3L1175.8 199.7L1174.8 209.4L1173.9 217.9L1173.2 225.7L1172.6 233.3L1172 241.2L1171.4 249.8L1170.8 260L1170.2 271.4L1169.7 283L1169.2 294L1168.8 303.2L1168.5 309.9Z" fill="#86a83c"/>
<path d="M1166 299.9L1165.8 305.3L1165.6 312.9L1165.4 321.8L1165.1 331.4L1164.9 341L1164.8 350L1164.8 358.5L1164.9 367.1L1165 375.7L1165.2 384.2L1165.4 392.4L1165.6 400.2L1166 407.9L1166.4 415.8L1166.9 423.4L1167.3 430.3L1167.7 436.1L1168 440.3L1177 439.7L1176.7 435.4L1176.2 429.7L1175.7 422.8L1175.2 415.3L1174.7 407.5L1174.4 399.8L1174.1 392.1L1173.8 384L1173.6 375.5L1173.4 367L1173.2 358.4L1173.2 350L1173.2 341.1L1173.3 331.6L1173.5 322L1173.7 313.1L1173.9 305.5L1174 300.1Z" fill="url(#stemg)"/>
<path d="M1168.4 432.3L1168.7 436.5L1168.9 442.3L1169.1 449.2L1169.2 456.5L1169.3 463.8L1169.3 470.4L1169.3 476.4L1169.5 482.3L1169.8 488.1L1170.2 493.8L1170.7 499.4L1171.2 505.1L1171.7 510.7L1172 516.5L1172.2 522.3L1172.4 528.2L1172.6 534.1L1172.8 540L1173.1 545.8L1173.4 551.4L1173.8 557L1174.1 562.7L1174.3 568.6L1174.5 575L1174.5 581.8L1174.4 589L1174.2 596.5L1174 604.2L1173.9 612L1173.7 620L1173.6 627.9L1173.5 635.9L1173.4 644L1173.3 652.4L1173.1 661L1173 669.9L1172.7 679.5L1172.4 689.6L1172.1 699.9L1171.8 710.3L1171.5 720.4L1171.3 730L1171.2 739.2L1171.1 748.3L1171.2 757.2L1171.1 765.5L1170.9 773.2L1170.5 779.9L1169.9 785.3L1169.1 789.7L1168.1 793.4L1167 796.8L1165.9 800.4L1164.7 804.7L1163.5 809.3L1162.3 814.2L1161 819.2L1159.7 824.3L1158.3 829.4L1156.9 834.7L1155.2 840.4L1153.4 846.7L1151.5 853.1L1149.7 859L1148.1 864.1L1147 867.7L1149 868.3L1150.1 864.7L1151.7 859.6L1153.5 853.7L1155.5 847.3L1157.4 841L1159.1 835.3L1160.6 830.1L1162.1 824.9L1163.5 819.8L1164.8 814.8L1166.1 810L1167.3 805.3L1168.5 801.2L1169.6 797.6L1170.8 794.1L1171.8 790.3L1172.7 785.8L1173.5 780.1L1173.9 773.3L1174.2 765.6L1174.3 757.2L1174.4 748.3L1174.5 739.2L1174.7 730L1175.1 720.5L1175.5 710.4L1175.9 700.1L1176.3 689.7L1176.7 679.6L1177 670.1L1177.3 661.1L1177.5 652.4L1177.7 644.1L1177.9 636L1178.1 628L1178.3 620L1178.5 612.2L1178.8 604.3L1179 596.6L1179.3 589.1L1179.4 581.9L1179.5 575L1179.5 568.5L1179.4 562.5L1179.2 556.8L1179.1 551.2L1179.1 545.6L1179.2 540L1179.6 534.3L1180.2 528.5L1180.9 522.7L1181.6 516.8L1182.3 510.9L1182.8 504.9L1183 499L1183 493.1L1182.7 487.3L1182.2 481.4L1181.5 475.6L1180.7 469.6L1179.8 463L1178.7 455.8L1177.6 448.5L1176.7 441.6L1176 435.9L1175.6 431.7Z" fill="#ece9e2"/>
<path d="M1180.5 470L1180.4 474.5L1180.4 480.7L1180.4 488L1180.6 495.8L1180.8 503.3L1181 510L1181.1 516.4L1181.2 523.2L1181.2 529.9L1181.3 536L1181.4 541.2L1181.5 545L1182.5 545L1183.2 541.3L1184.1 536.2L1185.2 530.1L1186.1 523.5L1186.8 516.6L1187 510L1186.7 503L1185.9 495.4L1184.8 487.6L1183.5 480.4L1182.3 474.3L1181.5 470Z" fill="#d9d08c"/>
<path d="M1164.8 469.9L1164.4 475L1163.9 481.8L1163.4 489.9L1162.9 499.2L1162.6 509.3L1162.8 520L1163.4 532.6L1164.4 547.5L1165.6 563.2L1166.9 578.3L1168 591.1L1168.8 600.1L1171.2 599.9L1170.5 590.8L1169.4 578L1168.1 563L1166.9 547.3L1165.9 532.4L1165.2 520L1165.1 509.4L1165.4 499.3L1165.9 490.1L1166.4 481.9L1166.9 475.2L1167.2 470.1Z" fill="#bdb8a8"/>
<path d="M1171 655L1163 672" stroke="#cfc9bd" stroke-width="2.5" fill="none"/>
<ellipse cx="1202.5" cy="342.5" rx="8" ry="7" fill="#121212"/>
<path d="M1482.2 330L1482.5 321L1483.1 308.2L1483.7 293.2L1484.2 277.4L1484.4 262.5L1484.1 249.9L1483.4 239.7L1482.3 230.7L1480.9 222.6L1479.4 214.9L1477.7 207.5L1476.1 199.8L1474.3 191.5L1472.3 182.8L1470.1 174.2L1468.1 166.4L1466.5 159.7L1465.4 154.9L1464.6 155.1L1465.7 159.9L1467.3 166.6L1469 174.5L1470.7 183.1L1472.4 191.9L1473.9 200.2L1475.3 207.9L1476.7 215.4L1478 223.1L1479.3 231.1L1480.2 240L1480.9 250.1L1481.2 262.5L1481.1 277.4L1480.8 293.1L1480.4 308.1L1480 320.9L1479.8 330Z" fill="#848b78"/>
<path d="M1479.6 346.9L1476.5 341.6L1472.3 334.3L1467.3 325.6L1461.9 316.3L1456.5 307.2L1451.3 299.1L1446.2 291.9L1440.9 284.9L1435.5 278.1L1430.3 271.6L1425.5 265.3L1421.1 259.3L1417.3 253.3L1413.7 247.5L1410.5 241.9L1407.6 236.6L1405.1 231.7L1403 227.3L1401.5 223.4L1400.6 219.8L1400.1 216.7L1399.8 213.9L1399.6 211.7L1399.4 209.9L1398.6 210.1L1398.8 211.8L1399 214L1399.3 216.8L1399.8 220L1400.6 223.6L1402 227.7L1403.8 232.3L1406.1 237.3L1408.7 242.8L1411.7 248.6L1415.1 254.6L1418.9 260.7L1423.1 267L1427.9 273.4L1433.1 280L1438.4 286.8L1443.7 293.8L1448.7 300.9L1453.9 308.8L1459.4 317.8L1464.9 326.9L1470 335.6L1474.3 342.9L1477.4 348.1Z" fill="#7e8468"/>
<path d="M1472.1 381.9L1468.8 376L1464.4 367.7L1459.2 357.9L1453.4 347.6L1447.3 337.6L1441.3 329L1434.9 321.6L1428.1 314.6L1421 308L1413.9 302L1407 296.5L1400.8 291.5L1394.9 287.2L1389.2 283.4L1383.7 280.2L1378.7 277.4L1374.1 275.1L1370.2 273.1L1366.9 271.6L1364.2 270.7L1361.9 270.2L1360.1 269.9L1358.7 269.8L1357.6 269.6L1357.4 270.4L1358.6 270.6L1360 270.7L1361.8 271L1364 271.4L1366.6 272.3L1369.8 273.9L1373.6 276L1378 278.6L1382.8 281.6L1388.1 285L1393.6 289L1399.2 293.5L1405.3 298.6L1412 304.2L1418.9 310.3L1425.9 316.8L1432.6 323.7L1438.7 331L1444.8 339.3L1450.9 349.1L1456.8 359.3L1462.2 369L1466.6 377.2L1469.9 383.1Z" fill="#8d8a5c"/>
<path d="M1487 363.3L1491.2 358L1497.1 350.7L1504.1 342.1L1511.6 333L1519.2 324L1526.2 316.1L1532.8 308.9L1539.5 301.9L1546.2 295.1L1552.8 288.5L1559.4 282.1L1565.8 275.9L1572.5 269.7L1579.6 263.4L1586.7 257.2L1593.1 251.7L1598.7 247.1L1602.8 243.8L1602.2 243.2L1598.2 246.5L1592.6 251L1585.8 256.3L1578.5 262L1571.1 268.1L1564.2 274.1L1557.5 280.1L1550.8 286.4L1544 292.9L1537.2 299.7L1530.5 306.7L1523.8 313.9L1516.8 322L1509.3 331.1L1501.9 340.4L1495.1 349.1L1489.2 356.5L1485 361.7Z" fill="#7d8a58"/>
<path d="M1485 320.3L1486.1 313.5L1487.6 303.8L1489.5 292.5L1491.6 280.8L1493.7 269.7L1495.6 260.5L1497 253.6L1498.1 248.2L1499.1 243.5L1500.3 238.8L1501.9 233.3L1504 226.1L1506.8 217.1L1510.1 206.9L1513.7 195.8L1517.4 184.2L1521 172.6L1524.3 161.3L1527.5 149.6L1530.8 137L1533.8 124.2L1536.5 112.4L1538.6 102.3L1540.4 95.1L1539.6 94.9L1537.1 101.8L1533.1 111.3L1528.7 122.6L1524 134.9L1519.6 147.2L1515.7 158.7L1512.1 169.8L1508.3 181.4L1504.7 193L1501.4 204.2L1498.4 214.7L1496 223.9L1494.2 231.3L1493 237.1L1492 242.1L1491.3 247L1490.5 252.5L1489.4 259.5L1488.1 268.8L1486.6 280L1485 291.8L1483.5 303.2L1482.1 312.9L1481 319.7Z" fill="#86a83c"/>
<path d="M1479.5 299.9L1479.3 305.3L1479 312.8L1478.6 321.7L1478.2 331.3L1477.8 340.9L1477.3 349.8L1476.9 358.1L1476.4 366.4L1475.8 374.6L1475.3 382.9L1474.7 391.3L1474.2 399.8L1473.6 409L1473 419L1472.4 429.2L1471.8 438.6L1471.4 446.5L1471 452.3L1479 452.7L1479.3 447L1479.7 439L1480.2 429.6L1480.8 419.5L1481.3 409.4L1481.8 400.2L1482.3 391.8L1482.8 383.4L1483.3 375.1L1483.8 366.8L1484.2 358.5L1484.7 350.2L1485 341.2L1485.4 331.6L1485.8 322L1486.1 313.1L1486.3 305.6L1486.5 300.1Z" fill="url(#stemg)"/>
<path d="M1470.8 451.3L1470 454.3L1468.9 458.6L1467.6 463.6L1466.2 469.1L1464.9 474.4L1463.8 479.3L1463 483.7L1462.4 487.9L1461.9 492L1461.5 496.2L1461.3 500.5L1461.3 505L1461.5 509.8L1462 514.6L1462.6 519.4L1463.2 524.4L1464 529.6L1464.6 535.2L1465.2 541.2L1465.8 547.6L1466.4 554.2L1466.9 561L1467.3 568L1467.7 575.1L1468 582.2L1468.2 589.5L1468.5 597L1468.7 604.6L1468.9 612.2L1468.9 620L1468.9 627.9L1468.9 635.9L1468.8 644.1L1468.6 652.3L1468.4 660.6L1468.2 668.9L1468 677.4L1467.7 686L1467.4 694.6L1467.1 703.2L1466.8 711.7L1466.5 719.9L1466.2 727.9L1466 735.7L1465.8 743.3L1465.6 750.9L1465.2 758.4L1464.8 765.9L1464.1 774L1463.2 782.6L1462.3 791.2L1461.4 799.2L1460.6 806L1460 810.9L1462 811.1L1462.6 806.2L1463.5 799.5L1464.5 791.5L1465.5 782.9L1466.5 774.2L1467.2 766.1L1467.8 758.5L1468.2 751L1468.6 743.4L1468.9 735.8L1469.2 728L1469.5 720.1L1469.9 711.8L1470.3 703.4L1470.7 694.8L1471.1 686.1L1471.5 677.5L1471.8 669.1L1472.1 660.7L1472.4 652.4L1472.6 644.2L1472.8 636L1473 627.9L1473.1 620L1473.1 612.2L1473 604.5L1472.9 596.9L1472.7 589.4L1472.5 582.1L1472.3 574.9L1472.1 567.8L1471.9 560.8L1471.7 553.9L1471.6 547.3L1471.4 540.9L1471.4 534.8L1471.3 529.1L1471.1 523.7L1470.9 518.7L1470.8 514L1470.7 509.4L1470.7 505L1470.8 500.7L1470.9 496.7L1471.1 492.8L1471.4 488.9L1471.7 484.9L1472.2 480.7L1472.8 475.9L1473.6 470.6L1474.6 465.2L1475.7 460.2L1476.6 455.8L1477.2 452.7Z" fill="#e8e4d2"/>
<path d="M1471.5 454.8L1469.9 457.8L1467.8 462L1465.4 467.1L1463 472.7L1460.8 478.5L1459.2 484.3L1458.1 490L1457.2 495.7L1456.7 501.6L1456.4 507.7L1456.4 513.9L1456.7 520.2L1457.5 527.2L1458.9 534.9L1460.6 542.6L1462.4 549.7L1464.1 555.8L1465.5 560.1L1466.5 559.9L1466.6 555.4L1466.5 549.1L1466.2 541.8L1465.8 534L1465.4 526.5L1465.3 519.8L1465.3 513.8L1465.4 507.9L1465.6 502.1L1465.9 496.5L1466.3 491L1466.8 485.7L1467.6 480.2L1468.6 474.4L1469.9 468.6L1471.1 463.2L1472 458.6L1472.5 455.2Z" fill="#d8cf9a"/>
<path d="M1476.8 480.1L1477.1 484.5L1477.7 490.5L1478.3 497.6L1478.9 505.3L1479.4 512.9L1479.8 520L1479.8 527.1L1479.7 534.8L1479.4 542.5L1479.2 549.6L1478.9 555.6L1478.8 560L1481.2 560L1481.4 555.7L1481.7 549.7L1481.9 542.5L1482.2 534.8L1482.3 527.1L1482.2 520L1481.9 512.8L1481.4 505.1L1480.8 497.4L1480.2 490.3L1479.6 484.2L1479.2 479.9Z" fill="#a9a59c"/>
<path d="M1472.9 490.1L1473.1 494.6L1473.4 501L1473.8 508.5L1474.2 516.4L1474.5 523.8L1474.9 530.1L1475.3 535.4L1475.6 540.5L1476 545.1L1476.4 549.2L1476.7 552.5L1476.9 555.1L1479.1 554.9L1478.9 552.4L1478.6 549L1478.2 544.9L1477.8 540.3L1477.5 535.2L1477.1 529.9L1476.7 523.7L1476.4 516.2L1476 508.4L1475.6 500.9L1475.3 494.5L1475.1 489.9Z" fill="#d9d6cc"/>
<path d="M1464 780L1453 783" stroke="#d8d4c8" stroke-width="2.5" fill="none"/>
</g>
<text class="w" x="365.5" y="85" text-anchor="middle">39#</text>
<text class="w" x="690.5" y="85" text-anchor="middle">21#</text>
<text class="w" x="1161" y="84" text-anchor="middle">39#</text>
<text class="w" x="1533" y="84" text-anchor="middle">21#</text>
<text class="w" x="569" y="866" text-anchor="middle">+P</text>
<text class="w" x="1403" y="866" text-anchor="middle">−P</text>
<path d="M188.7 729L194.1 729L191.2 852.6L185.8 852.6Z" fill="#fff"/>
<text class="w" transform="translate(222 722.6) rotate(90)" textLength="148.8" lengthAdjust="spacing">10 cm</text>
<path d="M957 716L962.4 716L961.4 875L956 875Z" fill="#fff"/>
<text class="w" transform="translate(992 722.5) rotate(90)" textLength="148.8" lengthAdjust="spacing">10 cm</text>
<text class="t" x="47" y="65.5">A</text>
</g>
<g id="panelB">
<path d="M1925.2 219.8L1920.7 234.3L1913.6 254.8L1906.9 278.6L1900.2 303L1895.6 326L1893 346.7L1887.9 367.4L1885.9 388.5L1885.6 408.4L1883.8 429.2L1886.1 451.4L1882.3 474.1L1880 497.8L1878.3 517.4L1877.3 530.8M1925.2 219.8L1919.6 232.4L1912.4 249.2L1904.6 270.3L1894.6 294.9L1884.5 322.8L1873.1 357L1859.4 397.6L1848 440.3L1837.4 481.7L1831.7 516.7L1828.9 545.5L1825.1 571.8L1821.6 593.2L1820.1 612.5L1825.2 625.7M1925.2 219.8L1926.8 239.4L1929.1 267.5L1931.3 299.3L1934.1 331L1936.3 358.2L1938.7 378.9L1942.5 397.9L1946.1 414L1949.1 431.2L1952.9 449.5L1953.3 471.2L1958.4 496.2L1962.8 519.7L1971.8 540L1973.2 554.3M1925.2 219.8L1932.4 238.8L1942.3 265.7L1953.7 297L1963.9 330.4L1972.1 362.1L1979.4 394.4L1983 429.2L1985.6 463.7L1986.1 496.5L1989.6 523.2L1992.3 545L1999.3 564.4L2006.1 580.8L2011.3 590.9L2015.5 596.4L2010.2 592.5L2008.9 580.4L2004.7 566.2L2006.6 551.5L2004.9 541.9M1925.2 219.8L1926.3 235.7L1927.7 257.9L1928.7 283.8L1931.2 310.6L1933.7 335.5L1937.3 357.5L1938.9 379.9L1940 402.4L1941.5 424.4L1943.4 445.7L1946.7 470.1L1951.6 496L1960.6 520.9L1964.4 543.2L1964.7 558.6M1925.2 219.8L1918.9 227.6L1909.8 238.2L1899.7 251.1L1889.2 266.7L1881.4 283.7L1872 305.1L1862.6 331.3L1850.6 357.1L1840.8 382.9L1835.3 403.4L1834 420.8L1834.1 434.1L1835.7 445.9L1837.6 455.8L1834.7 462.8M1925.2 219.8L1921.7 230.2L1916.6 244.4L1910.8 261.6L1904.3 280.7L1896.5 300.9L1893.2 325.5L1889.9 354.6L1887.3 384.6L1885.5 411.3L1880.8 429.2" fill="none" stroke="#b4b4b4" stroke-width="1.2" stroke-linejoin="round" stroke-linecap="round"/>
<path d="M1894.2 466.2L1895.2 532.4L1895.8 591L1892.7 630.7M2062.3 829.5L2068.2 828L2070.4 825.9L2073.2 821.6L2071.8 815.4L2068.8 806.2L2069.7 794L2071.5 772.9L2070 747.5L2064.4 719.7L2055.5 695L2052.8 677.1M2087.7 435.9L2094.4 449L2097.4 461.4L2098.7 472.1L2100.9 481.3L2103.9 486.8M2049 547.5L2051.4 559.2L2051.1 566L2050.4 568.4L2046.6 572.5M1819.7 438.4L1819 452.3L1817.1 465.9L1818.8 476.1L1812 483.2M1910.3 413.2L1909.5 446.8L1911.5 475.3L1909.7 496.2M1976.3 522.9L1981.9 541.5L1986.9 557.4L1991 568.8L1988.2 578.8M1909.3 512.2L1906.4 523.6L1911.3 532.6L1911.2 538.3L1910.7 542.4M1909.6 407.3L1909.4 421.3L1909.3 432.8L1911 442.1M1868.4 511.9L1863.6 531.7L1860.3 548.3L1864.2 560.3M1856.9 586L1854.9 624.1L1854.9 661.4L1852.6 691.8L1848 714.7M1926.2 353.9L1924.1 358.2L1921.9 360.2L1917.7 361.7L1922.7 363.2" fill="none" stroke="#7a7a7a" stroke-width="0.9" stroke-linejoin="round" stroke-linecap="round"/>
<path d="M1904.6 314.3L1897.7 352.3L1896.2 403.4L1894.2 466.2M2043.2 607.2L2042.8 632.6L2039.5 656.7L2032 679.6L2025.7 702.5L2024.3 724L2022.5 744.4L2027.5 766.2L2030.4 786L2032.3 803.4L2034.3 816.5L2036.4 824.9L2045.6 828.7L2053.1 830.9L2062.3 829.5M1988.4 295.4L2001.3 310.9L2014.5 326.4L2026.5 343.2L2036.6 360.5L2049.3 380.6L2061.9 400.1L2076.8 419L2087.7 435.9M2085.3 653.9L2080.4 658.6L2074.3 663.4L2072 667.6L2066.8 672.5L2062.1 677.1M2085.3 653.9L2087.6 658.7L2090 663.4L2092.2 667.9L2099.2 671.9L2099.3 677.1M1830 760.7L1826.2 763.6L1820.9 766.3L1815 769.3L1809.8 771.5L1806.8 774.6M2001.8 770L1996 764.4L1989.2 758.7L1980.3 753.7L1973.9 747.7L1969.3 742.1M1983 327L1999.5 378.8L2017.1 435.6L2031 486L2041.8 524.3L2049 547.5M1864.6 326.5L1855.2 351.2L1844.8 376.6L1833.5 401.1L1826.2 421.3L1819.7 438.4M1916.9 319L1914 348.6L1909.6 379.3L1910.3 413.2M1950 383.2L1958.2 414.9L1965 446.5L1970.1 477L1975.2 502.1L1976.3 522.9M1909.9 376.9L1910 409.9L1910.2 442L1912.2 471.8L1909.4 496.1L1909.3 512.2M1908.5 341.4L1907.5 368.4L1909.8 388.9L1909.6 407.3M1881 412.2L1874.3 454.7L1870.6 486.4L1868.4 511.9M1872.2 425.5L1868.6 457.2L1866.8 487.8L1864 519.5L1858.7 550.8L1856.9 586M1923.1 285.1L1922.2 301.6L1922.7 318.6L1925.4 333.9L1927.3 346.1L1926.2 353.9" fill="none" stroke="#7a7a7a" stroke-width="1.5" stroke-linejoin="round" stroke-linecap="round"/>
<path d="M1925.2 219.8L1921.4 235.5L1916.8 256.2L1910.9 282.3L1904.6 314.3M1925.2 219.8L1929.6 230.3L1935.9 244.3L1943.3 261.8L1951 282.2L1959.8 305.6L1969.4 333.8L1981.7 366.4L1994.3 401.1L2007 435.7L2016.1 468.3L2024.5 498.2L2029.7 526.7L2036.3 554.5L2041 581.2L2043.2 607.2M1925.2 219.8L1930.3 226.1L1937.4 234.7L1945.7 244.8L1954.8 256.6L1963.2 268.8L1974.6 281.5L1988.4 295.4M1925.2 219.8L1930.2 226.3L1936.7 234L1945.1 245.1L1955.7 262.1L1967.4 287.6L1983 327M1925.2 219.8L1917.8 230.8L1907.2 246L1894.7 264.1L1882.6 284.1L1872.5 304.5L1864.6 326.5M1925.2 219.8L1923.8 237L1921.5 261L1920 289.3L1916.9 319M1925.2 219.8L1927.6 237.6L1930.7 262.7L1933.9 292.2L1937.3 323.2L1943.4 352.8L1950 383.2M1925.2 219.8L1923.3 236.7L1920.1 260.6L1915.6 288.4L1911.9 318.1L1909 347.3L1909.9 376.9M1925.2 219.8L1922.7 241.2L1918.8 272.2L1913.3 307.4L1908.5 341.4M1925.2 219.8L1917.5 253.8L1905.4 303L1892.7 358.7L1881 412.2M1925.2 219.8L1918.1 243.6L1907.7 277.3L1895.6 316.6L1884.1 356.3L1874.9 392.9L1872.2 425.5M1925.2 219.8L1924.6 226.3L1924.3 235.3L1924.5 246.2L1924.6 258.2L1923.3 270.8L1923.1 285.1" fill="none" stroke="#7a7a7a" stroke-width="2.2" stroke-linejoin="round" stroke-linecap="round"/>
<path d="M1762.4 584.3L1762.2 604.5L1764.4 625.1L1766.5 645.1L1772.1 661.3L1768.7 672.5M1792.9 512.8L1783.5 531.4L1777.5 545.3L1772.9 556.4L1774.3 565.7M1843.4 695.8L1837.4 732.1L1832 760.3L1823.6 778.7L1820.9 790.2L1818.4 797.9L1820.3 802.3L1818.4 807.1M1926.8 676.7L1925.1 692.8L1921.3 703.1L1916.2 709.6L1909.7 714.7L1911.2 718.9M1987.4 742.9L1994.7 751.8L1999.5 760.7L1999.7 770.2L1997.3 780.6L1997.1 792.1L1997.2 801.3L1993 809.7L1987.8 816.4M2039.7 429.2L2036.5 436.6L2033.6 439.7L2030 443L2029.6 445M2086.8 653.7L2086.8 673.6L2087.3 689.8L2088.3 703.7L2087.7 714.8L2090 723.5M1777.9 537.7L1775.4 557.5L1774.4 579.7L1774.9 599.6L1769.8 618.5L1769.6 630.7M1897.4 532.5L1898.2 549L1898.7 563.2L1900.3 575.9L1904.3 584.3M1897.1 308.6L1893.8 314.9L1892.7 321.4L1893.9 325.1M1904.7 487.1L1909.3 498L1910 507.2L1912.9 515L1910.3 520.1M1929.9 376.1L1927 387L1928.6 396.4L1927 403.4L1931.2 408.4M1848.5 484.9L1847.4 508L1845.5 527L1846.2 542.5L1848.3 553.5M2051.9 556.8L2056.8 569.1L2055.7 576.2L2054.8 579.6L2051.3 582.7M1912.6 386.6L1914.2 419.1L1913.4 446.7L1910.3 465.7M1773.7 530.2L1774.9 554.8L1774.3 577.9L1776.7 597.3L1773.2 610.1M1962.5 529.3L1968.4 551.8L1974.9 572.8L1979.7 588.9L1977.9 602M2006.8 469.3L2005.5 464.5L2002.4 455.8L2001.2 446.1L2005.2 440.9M1894.1 316L1887.5 335.3L1887.3 352.3L1885.7 364.3M1962.9 604.4L1965.8 633.8L1965.2 661.7L1967.6 685.8L1971.9 702.5M1935.1 487.1L1942.1 510.1L1945.8 531.6L1945.7 549.3L1946.1 562.8M1939.2 379.1L1944.3 395.8L1950.8 411.3L1953.3 424.7L1953.9 433.2M1942.1 626.5L1942.6 652.6L1938.5 672.8L1937 690.1L1941.9 702.7" fill="none" stroke="#3c3c3c" stroke-width="1.2" stroke-linejoin="round" stroke-linecap="round"/>
<path d="M1811.7 377.9L1787.1 413.6L1768.4 447.6L1755 477.2L1749.7 502.7L1751.5 524.8L1756 545.1L1760.1 564.9L1762.4 584.3M1843.5 359.7L1830.7 394.2L1818.9 430L1807.7 464L1799.7 491L1792.9 512.8M1853.7 462.8L1853.9 491.5L1854.1 512.8L1855.4 529.9L1857.2 544.6L1857.3 561.7L1856.3 584.1L1852 616.5L1847.4 654.8L1843.4 695.8M1913.3 424.6L1915 464.6L1917.7 502.8L1918.8 537.7L1918.9 570L1920.2 601.8L1924.3 631L1925.9 656.3L1926.8 676.7M1982.6 513.7L1988 531.6L1993.2 547.9L1996.8 564.7L1998.7 584.1L1996 609.3L1991.1 636.9L1984.1 666.2L1978.5 692.5L1977.2 714.3L1982.2 730.4L1987.4 742.9M1981.1 319.3L1995.7 346.3L2012.8 373.3L2027.2 398.3L2036.1 417L2039.7 429.2M2009.9 383.9L2025.1 430.2L2040.4 475L2052.3 514.4L2061 547.8L2069.9 578.8L2076.5 607L2083.1 631.6L2086.8 653.7M1850.6 359.7L1839 390.3L1827.7 418.9L1816.5 444.8L1808 466.6L1797.8 485.5L1788.5 502.5L1782.7 520.1L1777.9 537.7M1901.5 426.8L1897.4 451.9L1895.3 474.4L1895.4 495.8L1897.5 514.4L1897.4 532.5M1910 277.8L1905.8 290.9L1902.6 300.9L1897.1 308.6M1910.8 375.2L1908.9 402L1906.6 428.2L1906.9 451.7L1905.2 471.7L1904.7 487.1M1924.1 301.1L1926 317.7L1927.3 334.8L1929.5 350.6L1928.5 364.6L1929.9 376.1M1882.1 334L1874.2 366.5L1865.5 401L1860.1 433.2L1853.6 461.5L1848.5 484.9M1984.6 331.6L2002.7 385.1L2022.1 442L2035.2 494.7L2048 533.5L2051.9 556.8M1915.1 301.8L1912.9 327L1910.8 354.9L1912.6 386.6M1833.8 367.9L1819.5 402.4L1804.4 438.9L1789.9 473.2L1779.8 502.7L1773.7 530.2M1952.3 422L1955.4 445.7L1956.1 467.3L1956.7 488.2L1956.6 507.8L1962.5 529.3M1982.8 382.2L1987.8 409L1993.5 432.7L2000.5 453.3L2003.1 465.3L2006.8 469.3M1908.1 265.9L1905 280.4L1899.1 297.3L1894.1 316M1950.7 427.1L1950.7 464.9L1951 502.7L1951.8 539.2L1955.5 572L1962.9 604.4M1930.6 352.2L1931.3 380.2L1931 409.7L1931.8 437.4L1932.6 462.8L1935.1 487.1M1934 316.8L1937.2 328.7L1937.9 340.4L1937.4 352.5L1940 365.6L1939.2 379.1M1924.6 392.5L1926.1 445.2L1927.9 500.5L1931.6 551.2L1937.7 594.1L1942.1 626.5" fill="none" stroke="#3c3c3c" stroke-width="1.9" stroke-linejoin="round" stroke-linecap="round"/>
<path d="M1925.2 219.8L1915.7 231.7L1902.5 247.8L1887 267.4L1870.5 290.2L1854.1 314.8L1834.2 343.9L1811.7 377.9M1925.2 219.8L1915.7 233.8L1902.9 253L1888.2 276.1L1872.6 301.8L1857.7 328.8L1843.5 359.7M1925.2 219.8L1917.2 233.8L1905.8 253L1893.4 276.2L1881.5 302L1872.1 328.8L1866.1 359.2L1860 393.3L1856.7 429.1L1853.7 462.8M1925.2 219.8L1923.1 236.9L1919.8 260.6L1915.8 289.1L1912.4 320.2L1911 352L1910.4 386.5L1913.3 424.6M1925.2 219.8L1927.1 233.8L1929.7 253L1932.4 276.2L1936 302L1940.7 328.9L1947.8 359L1955.7 393.4L1965 429L1972.8 462.7L1978.5 491.6L1982.6 513.7M1925.2 219.8L1930.9 229.6L1939.1 242.8L1948.7 258.8L1958.5 277L1968.1 296.3L1981.1 319.3M1925.2 219.8L1932.2 229.5L1941.5 242.1L1952.5 258.3L1965.5 279.3L1978.4 305.9L1993.4 341L2009.9 383.9M1925.2 219.8L1918.6 230.6L1909.9 245.5L1899.5 263.3L1888 283.8L1876.7 305.7L1864.4 331L1850.6 359.7M1925.2 219.8L1922 245.1L1917.6 281.4L1913.4 322.9L1908.4 364L1904.7 398.8L1901.5 426.8M1925.2 219.8L1921.6 230L1917 244.7L1912.8 261.4L1910 277.8M1925.2 219.8L1922.9 237.5L1919.2 262.5L1915.4 291.8L1912.6 321.7L1910.1 349.3L1910.8 375.2M1925.2 219.8L1925.2 228.6L1925.5 240.9L1926 255.3L1926.2 270.7L1925.3 286.2L1924.1 301.1M1925.2 219.8L1920.8 230.4L1915.3 245L1908.4 262.7L1900.4 283.2L1891.7 306.1L1882.1 334M1925.2 219.8L1930.5 226.7L1937.5 235L1945.7 246.7L1955.6 264.6L1968.5 290.6L1984.6 331.6M1925.2 219.8L1923.8 233.9L1921.8 253.5L1918.2 276.8L1915.1 301.8M1925.2 219.8L1914.3 234.9L1898.5 255.7L1880.5 280.5L1861.4 308L1846.5 336.4L1833.8 367.9M1925.2 219.8L1928.6 244.7L1933 280.2L1938.2 321.1L1943.5 361L1949 395L1952.3 422M1925.2 219.8L1932.4 238.9L1943 266L1955.4 297.4L1967.1 328.8L1975.7 356.5L1982.8 382.2M1925.2 219.8L1921.5 227.7L1917 238.4L1912.3 251.6L1908.1 265.9M1925.2 219.8L1928.3 242.9L1933.1 275.4L1939.5 313.3L1945 353L1948.8 390.5L1950.7 427.1M1925.2 219.8L1925.5 233.8L1925.3 253.3L1926.3 276.4L1926.6 301.3L1929.6 326.1L1930.6 352.2M1925.2 219.8L1926.2 231.5L1927.1 248L1928.5 267.1L1929 286.4L1931.8 303L1934 316.8M1925.2 219.8L1924.2 235.6L1923 256.7L1923 283L1922.8 313.7L1922.7 349.4L1924.6 392.5" fill="none" stroke="#3c3c3c" stroke-width="2.8" stroke-linejoin="round" stroke-linecap="round"/>
<path d="M1775.6 518.5L1772.5 547L1766.8 573.2L1764 595.6L1765 612.1M1860.9 571.1L1861.1 603.8L1862.4 633.5L1861.8 659.3L1860.2 677.1M1950.2 576.2L1954.5 616L1960.3 654.3L1967.7 686.3L1969.3 709.6M2005.2 584.4L2005.5 597.3L2005.8 608.5L2006.3 617.4L2006.6 625.4L2004.1 630.7M1967 514.8L1973.6 541.4L1977.8 568.4L1981.7 591.1L1987.8 607.5M1859 585.8L1856.3 626.2L1851.1 667.6L1845.7 704.1L1839.9 729.4M1803.5 474.3L1800.5 494.4L1798 512.2L1792.9 527.6L1791.4 538.6M1780.6 509.1L1775.6 534L1773.6 556L1774.9 574.6L1772 588.4M2077.8 612.7L2077.9 628.2L2072.3 635.6L2069.9 638.4L2070.3 643.1" fill="none" stroke="#1c1c1c" stroke-width="1.6" stroke-linejoin="round" stroke-linecap="round"/>
<path d="M1824.4 379.7L1811.7 408.2L1800 436.6L1789.1 464.7L1782.6 491.3L1775.6 518.5M1880.9 386.4L1875 424.8L1869.7 464.2L1865.4 502.6L1861.4 538L1860.9 571.1M1934.5 386.1L1937.4 423.1L1940.7 462.2L1943.5 500.9L1945.4 538.1L1950.2 576.2M1970 393.3L1979.7 428.9L1988.6 462.6L1996 491.4L2001.3 515L2005 535.7L2006.3 553.7L2006.4 569.5L2005.2 584.4M1945.1 422.4L1947.5 440.7L1950.3 456.9L1954.4 472.5L1960.5 491.4L1967 514.8M1867.3 452.7L1865.1 477.2L1863 499.4L1861.4 522.6L1859.6 550L1859 585.8M1847.6 349.4L1836.2 376.3L1824.2 402.9L1813.3 429.6L1807.3 453L1803.5 474.3M1833.8 370L1822.2 399.1L1811.3 429.2L1800.2 458.1L1787.7 484.5L1780.6 509.1M1992.8 347.7L2012.6 410.1L2034.3 477.8L2052.5 539.9L2069.2 585.8L2077.8 612.7" fill="none" stroke="#1c1c1c" stroke-width="2.5" stroke-linejoin="round" stroke-linecap="round"/>
<path d="M1925.2 219.8L1912.9 237.7L1895.6 262.8L1876.2 292.3L1856.7 323.1L1839.9 352.2L1824.4 379.7M1925.2 219.8L1919.6 237L1911.3 260.7L1901.9 288.9L1892.7 320L1886.3 352.2L1880.9 386.4M1925.2 219.8L1926.2 237L1927.2 260.6L1928.5 289.1L1929.7 320.1L1931.9 352.2L1934.5 386.1M1925.2 219.8L1928.3 233.8L1932.3 253L1937.4 276.2L1944.1 301.9L1951.2 328.8L1959.5 359L1970 393.3M1925.2 219.8L1927.3 245.5L1930.2 282.5L1934.2 324.6L1938.3 365.6L1941.8 398.6L1945.1 422.4M1925.2 219.8L1916.9 248.7L1904 290.2L1890.4 337.5L1878.4 384.2L1870.2 423.1L1867.3 452.7M1925.2 219.8L1915.8 233.6L1902.2 253L1887 275.9L1872.3 300.5L1858.8 324.2L1847.6 349.4M1925.2 219.8L1914.3 236.1L1898.9 258.9L1880.2 285.7L1861.1 314.6L1845 342L1833.8 370M1925.2 219.8L1930.9 227.5L1939 236.5L1949.1 249.5L1962.4 269.9L1975.1 300.4L1992.8 347.7" fill="none" stroke="#1c1c1c" stroke-width="3.6" stroke-linejoin="round" stroke-linecap="round"/>
<path d="M1922.4 408.9L1922.2 416.3L1923.9 421.8L1924.3 425.7L1922.8 428.7M1881.5 289.3L1876.2 296L1872.1 301.9L1867.1 305.7" fill="none" stroke="#101010" stroke-width="2.1" stroke-linejoin="round" stroke-linecap="round"/>
<path d="M1924.2 324.7L1924.1 345.4L1923.3 365.7L1922.1 383.7L1921.9 398.3L1922.4 408.9M1901.7 263.1L1894.6 273.1L1887.9 281.6L1881.5 289.3M1925.2 219.8L1927.7 222.6L1931.3 226.5L1935.6 231.1L1939.5 236.3L1944 241.7L1949.7 248.2L1955.9 255.9L1962.9 263.9L1968.2 270.4L1971.6 275.3M1925.2 219.8L1923.2 223.2L1920.3 228.2L1917.4 233.7L1914.3 239.2L1912.3 243.9L1909.2 247.7L1906.7 250.8L1903.1 254.1L1900.8 256.4L1900.3 258.4M1925.2 219.8L1926.7 226.6L1928.7 235.9L1930.7 247.1L1933.4 259.6L1937 272.5L1941.7 288L1947.4 305.8L1951.2 323.9L1955.9 340.1L1958.6 351.1M1925.2 219.8L1926.4 222.9L1927.7 227L1929.2 232.2L1931.2 238.3L1934.5 245.3L1937.8 254.3L1942.2 265.5L1945.4 276.7L1948.5 286.6L1950.9 293.6M1925.2 219.8L1925.3 225.5L1925.6 233.3L1926 242.7L1926.3 252.9L1926.5 263.6L1927 275.7L1927.1 289.7L1929.5 303.9L1930.7 316.3L1930.8 324.8M1925.2 219.8L1926.1 225L1927.4 232.1L1929.1 240.8L1930.5 250.4L1932.7 260.5L1935.6 272L1940.5 286L1946.3 300L1950.9 312.3L1952.2 320.8M1925.2 219.8L1925.5 227L1925.7 237L1926 249.1L1926.7 262.1L1927.4 275.5L1929 291.2L1930.9 309.1L1931.5 327.2L1932.6 342.9L1933.1 353.9M1925.2 219.8L1926.2 226.2L1927.8 234.9L1929.8 245.3L1931.8 257.1L1933.5 269.2L1936.3 283.8L1939.1 300.5L1942.3 317.6L1947.1 332.7L1948.1 343.1M1925.2 219.8L1924.4 224.6L1923.3 231.3L1921.5 239.2L1920.2 247.8L1920 256.7L1920.6 267L1922.5 279L1923.3 290.6L1924.6 301.4L1924.6 308.6M1925.2 219.8L1927 224.3L1929.6 230.3L1932.7 237.8L1936 246.4L1939.7 256.5L1943.5 269.3L1949.6 285.2L1955.8 301.6L1961.5 316L1964.1 326M1925.2 219.8L1928 224.9L1932.4 231.8L1937.5 240.3L1943 249.7L1948 260L1954.5 272.1L1961.2 286.6L1969.2 301L1977 314.1L1981.4 323M1925.2 219.8L1922.6 224L1918.8 229.8L1914.5 236.7L1911.1 244.3L1908.4 252.3L1907.6 262L1906.2 273.1L1905.1 284.1L1903.9 294.3L1905.1 301M1925.2 219.8L1923.5 223L1921 227.4L1918.1 232.7L1914.6 238.7L1911.2 245.3L1908.1 253.1L1904.3 262.6L1900.1 272L1896.3 280.4L1893 286.4M1925.2 219.8L1926.9 227L1929.1 237L1932.2 248.8L1934.8 262.1L1937.8 276.2L1942.5 292.3L1948 311.5L1955 331.3L1960.6 348.2L1962.5 359.9M1925.2 219.8L1925.6 226.8L1926.1 236.9L1926.6 248.4L1927.5 259.6L1929.2 268.7L1930.1 275.5L1931.6 281.8L1933.1 287L1933.7 291.1L1934.8 294M1925.2 219.8L1928.1 225L1932.4 232L1937.5 240.6L1942.9 250.1L1949.1 260.6L1954.7 272.6L1962.9 287.5L1970.6 302.4L1978.6 315.6L1983.3 324.5M1925.2 219.8L1921.7 224.1L1916.7 230L1910.5 237L1904.1 245.3L1898.1 254.2L1891.8 265.5L1884 278.6L1875.6 292.5L1868 304.8L1863.6 312.9M1925.2 219.8L1923.9 224.8L1921.7 231.5L1919.3 239.9L1917.4 250.2L1916.2 262.2L1916.1 278.6L1915.5 299L1916 320.2L1914.4 339.2L1914.8 351.9" fill="none" stroke="#101010" stroke-width="3.4" stroke-linejoin="round" stroke-linecap="round"/>
<path d="M1925.2 219.8L1925 231.4L1924.6 247.7L1924 266.8L1924 286.7L1923.5 305.6L1924.2 324.7M1925.2 219.8L1921.1 227.4L1915.2 238.3L1908.6 250.7L1901.7 263.1" fill="none" stroke="#101010" stroke-width="4.9" stroke-linejoin="round" stroke-linecap="round"/>
<path d="M1918.2 219.8L1934.4 219.8L1940.5 273.2L1932.1 342.8L1924.7 417.1L1918.2 342.8L1907.1 277.8Z" fill="#111" opacity="0.8"/>
<path d="M1910.1 171.8L1912 189.6L1913.8 207.3L1915.7 225.1L1936.5 223.8L1936.2 206L1935.9 188.1L1935.6 170.3Z" fill="#0c0c0c"/>
<path d="M1941.5 171.2L1936.9 184.9L1932.3 198.5L1927.6 212.1L1932 213.6L1936.6 200L1941.3 186.4L1945.9 172.7Z" fill="#0c0c0c"/>
<path d="M2576.4 537.8L2586.6 554.5L2602.5 578.4L2619.5 605.5L2636.7 632.3L2647.4 653.4L2651 671.4L2652.2 686.6L2649.5 699.2L2652.2 711.4L2653 718.9M2465 407.8L2469.8 416.7L2477.3 429.1L2485.9 443.8L2495.8 459.1L2505.2 473.3L2508.8 486.8L2512 502.3L2515.3 517.1L2518.8 529.6L2525.3 537.8M2367.5 245.3L2374.1 258.7L2383.9 278L2394.7 300L2406 321.9L2415.3 340.7L2422.9 355.9L2430.1 369.3L2437.1 381.2L2445.3 394.1L2450.8 406.5L2455.8 419.7L2456.6 431.7L2457.8 444.3L2459.9 457.1L2461.2 472.8L2467 488.4L2472.9 508.9L2477.6 528.7L2478.4 544.4L2477.1 556.7M2367.5 245.3L2369.8 250.4L2372.9 257L2377 265.5L2382.8 275.8L2390.3 288.7L2400 305L2413.4 324.9L2427.8 346.2L2443 367.5L2456.6 386.4L2469.8 402.6L2479.6 418.1L2487.7 431.8L2496.6 446.9L2505.1 460.9L2516.2 476.1L2525 490.8L2531.2 505.5L2536.6 520.4L2539.2 537L2540.4 552.5L2544.2 568.9L2547.5 585.9L2553.3 602.4L2555.8 618.6L2553.8 637.9L2552.6 658.8L2550.4 678.7L2549.7 696.4L2554.4 708.3M2367.5 245.3L2368.9 248.1L2370.7 251.7L2373.9 256.2L2377.7 262L2381.9 269L2387.7 277.9L2396.2 288.3L2404.3 299.8L2413.9 311.3L2422.8 321.8L2430 331.4L2436.6 339.5L2442 348L2447.7 356.6L2452.8 365.7L2457.8 375.5L2463 385.2L2468.9 396.4L2470.6 407.2L2471.4 417L2474.3 426.3L2476.9 434.7L2481.7 444.7L2487.9 453.9L2489.6 462.5L2489.2 472.3L2488.7 483.6L2485.4 492.5L2488 502.7L2490.9 508.4M2367.5 245.3L2363.2 255.4L2357 269.3L2350.1 286L2342.2 303.8L2335.3 320.9L2326.6 337.3L2319.7 353.5L2314.6 371.3L2307.9 389.8L2301.5 411.1L2290.4 436.6L2279.8 466.1L2266.5 495.7L2255.2 522.9L2246.4 545.1L2240.1 559.8L2232.4 572.1L2223.9 579L2211.7 584.9L2207.8 590" fill="none" stroke="#b4b4b4" stroke-width="1.2" stroke-linejoin="round" stroke-linecap="round"/>
<path d="M2242.8 465.7L2237.5 483.6L2235 498.8L2234.2 510.6L2232.9 519.3M2352.8 596.9L2348.6 615.2L2342.2 631.3L2340.8 642.1L2336.1 652.1L2339.2 657.8L2337.8 663.2L2335 667.8M2547.1 613.6L2547.3 627L2553.3 639.7L2554.1 653.9L2560.8 668.7L2559.6 685.6L2557.4 700.3L2555.7 714.7L2553.2 723.5M2590.4 574.8L2598.7 593.9L2604.5 612.4L2605.7 630.5L2604.4 651L2609.3 672.7L2612.9 692.2L2617.7 710.5L2618.2 723.5M2382 475.6L2381.2 486.3L2381.4 495.3L2382.9 503.3L2381 508.4L2375.7 513.8L2371.2 519L2372.8 521.9M2523.1 499.4L2524.6 512.5L2525.2 526.3L2524 540.5L2525.8 555.8L2528.5 572.3L2531.8 587.3L2533.9 602.2L2531.7 611.3M2370.2 424.6L2370.8 433.8L2369.2 443.9L2366.2 452.4L2362.8 459.4L2356.9 467L2358.2 473.1L2359.5 476.8M2372.7 400.5L2376.1 420.4L2378.7 438.1L2374.9 449.7M2422.3 458.1L2423.5 473.8L2425.5 492.7L2426 511.8L2423.2 527.7L2419.8 539.4M2533.1 556L2539.3 569.7L2545.8 583L2550.6 596.6L2552.9 610.8L2549.4 627.4L2546.9 641.9L2549.4 656.1L2550.7 664.7M2493.3 570L2496.7 582.3L2498.8 595.5L2493.5 609.7L2490.6 625.1L2486.7 643L2480.5 660.2L2482.5 673.5L2478.8 684.7M2292.6 431.5L2284.9 441.8L2275.2 449.4L2268.7 454L2264.3 456.7L2263.7 459.2L2262.1 462L2257.7 462.7M2334.1 377.1L2332 387L2328.3 395.2L2324 401.6L2322.5 406.9M2384.3 455.8L2382.5 481.5L2378.7 504.9L2379.7 521M2473.4 426.3L2476.3 435.2L2479.7 443.4L2486 452.5L2486.1 462.5L2486.3 471.8L2484 482.3L2480.5 490.7L2486.3 496.6" fill="none" stroke="#7a7a7a" stroke-width="0.9" stroke-linejoin="round" stroke-linecap="round"/>
<path d="M2301.9 329.6L2289.8 359L2277 390.4L2262.5 420.5L2253.3 444.7L2242.8 465.7M2345.8 435.3L2346.5 454.5L2347.7 471.9L2349.1 488.3L2351 505.1L2354.2 520.3L2356.5 537.4L2357.8 556.5L2355.7 576.9L2352.8 596.9M2466.9 417.7L2479.7 436.4L2492.8 454.6L2503.1 472.7L2510.8 491.4L2516.3 510.4L2520.9 529.4L2524.2 548.9L2531.4 567.4L2536.8 584.4L2540.5 599.4L2547.1 613.6M2488.2 390.1L2499.7 404L2511.1 416.6L2523.4 429.5L2534.4 445L2546 462.3L2556.6 480.8L2562.6 499.8L2568.2 519.5L2574.2 538L2580.8 556.3L2590.4 574.8M2371.4 373.8L2372.3 386.9L2374.3 398.6L2378.9 409.8L2383.6 419.7L2386.9 430.5L2388.9 440.5L2386.8 452.4L2382.4 463.4L2382 475.6M2450.3 364.4L2459.1 375.7L2469.2 386.7L2477 397.7L2486.5 409L2492.4 421.4L2495.9 434.2L2501.2 447.5L2505.2 459.5L2512.8 473.2L2515.9 485.6L2523.1 499.4M2360.6 344.8L2362 354.4L2365.3 362.7L2366.7 370.1L2370.9 377.8L2370.9 384.6L2370.9 393L2369.6 402.6L2370.6 412.8L2370.2 424.6M2374.7 334.8L2374.6 357.8L2375.2 379.4L2372.7 400.5M2403 369.5L2408.4 382.3L2413.3 395.2L2418.6 407.1L2423.2 417.9L2424 426.6L2424.2 435.5L2423.3 445.4L2422.3 458.1M2462.5 388.3L2473.8 402.4L2483.3 416.6L2491.6 431.8L2498.3 446.3L2506.5 462.3L2514.7 479.6L2520.1 496.3L2525.5 512.8L2526.6 528.5L2529 542.9L2533.1 556M2443.6 417.6L2452.5 435.2L2458.7 453.3L2466.3 469.2L2475.1 484.3L2481.3 497.9L2487.2 510.1L2489.1 521.8L2488.9 532.7L2490.6 544.5L2492.2 556.9L2493.3 570M2325.8 338L2323.2 348.2L2319.9 359.3L2316.9 369.4L2313.1 379.3L2311.3 390.2L2307.4 400.5L2303 411L2299.4 421.4L2292.6 431.5M2352.7 302.2L2347.8 319.2L2341.8 335.8L2337.2 352.7L2335.9 366.1L2334.1 377.1M2378.1 366.9L2381.5 397.9L2383.1 426.3L2384.3 455.8M2428.6 326.8L2434.5 334.8L2440.6 343L2443.7 350.8L2448.7 359.2L2454.6 369.2L2459.4 378.2L2465 388.4L2467.7 398L2470.2 408.2L2471 417.8L2473.4 426.3" fill="none" stroke="#7a7a7a" stroke-width="1.5" stroke-linejoin="round" stroke-linecap="round"/>
<path d="M2367.5 245.3L2360.8 252.2L2352.2 261.3L2340.4 273L2328 287.8L2314.9 306L2301.9 329.6M2367.5 245.3L2365.3 260L2362.9 280.6L2360.1 304.5L2356.4 329.3L2353.6 352.3L2350.9 373.1L2347.5 394.3L2345.2 415.3L2345.8 435.3M2367.5 245.3L2370 251.5L2372.9 259.6L2376.7 269.8L2383 282.2L2390.6 296.3L2401.8 313.8L2414.5 334L2429 355.6L2442.3 378L2454.9 398.5L2466.9 417.7M2367.5 245.3L2370.4 249.5L2374.3 254.8L2379.4 261.9L2386.6 270.8L2394.7 282.6L2407.9 298L2423.4 316.8L2442 337.3L2459.8 357.7L2475.9 375.2L2488.2 390.1M2367.5 245.3L2367.5 255.1L2367.1 268.9L2366.5 284.8L2366.4 301.4L2366.7 316.6L2368.2 331.2L2370.5 345.7L2371.5 360.1L2371.4 373.8M2367.5 245.3L2369.7 249L2372.1 253.8L2375.3 260.1L2379.8 267.9L2386 277.4L2395.6 290L2407.5 305L2419.4 321.4L2431.6 337.6L2442.7 352L2450.3 364.4M2367.5 245.3L2366.8 253.3L2366 264.5L2364.7 277.6L2364.8 290.8L2364 302.9L2364.2 313.6L2363.3 324.4L2361.9 334.6L2360.6 344.8M2367.5 245.3L2368.9 261L2371.3 283L2373.4 308.7L2374.7 334.8M2367.5 245.3L2370.7 258.6L2375.7 277.5L2381.3 299.2L2387.8 320.9L2393.2 339.4L2397.7 355.3L2403 369.5M2367.5 245.3L2369.7 250.1L2372.7 256.4L2376.9 264.4L2382.6 274.1L2390 285.7L2399.6 300.2L2410.3 317.5L2424.1 336.6L2437.5 355.4L2451.2 372.5L2462.5 388.3M2367.5 245.3L2369.2 251.6L2371.5 260L2374.5 270.4L2378.3 283L2383.4 297.3L2391.6 314.9L2401.7 335.4L2412.5 357.2L2424.6 378.6L2434.5 399L2443.6 417.6M2367.5 245.3L2364.5 252L2360.5 261.4L2356 272.3L2351.6 283.8L2346.8 294.8L2341.4 305.3L2335.5 315.8L2329.5 327.2L2325.8 338M2367.5 245.3L2365.6 250.7L2362.8 257.8L2359.7 266.6L2356.7 276.9L2354.4 288.6L2352.7 302.2M2367.5 245.3L2369.7 266.6L2371.5 296.9L2374.3 331.9L2378.1 366.9M2367.5 245.3L2368.9 247.9L2370.5 251.3L2373.1 255.6L2377.1 260.9L2381.7 267.6L2387.9 276.1L2394.7 286.2L2403.2 297.2L2411.9 308.3L2419.7 318.1L2428.6 326.8" fill="none" stroke="#7a7a7a" stroke-width="2.2" stroke-linejoin="round" stroke-linecap="round"/>
<path d="M2232 560.5L2220.5 572.9L2211.2 583.8L2199.2 592.7L2188.3 599.5L2180.2 604.3L2176.4 609.4L2170.2 612.1M2375.5 571.1L2376.4 589.8L2373.9 607.5L2370.6 623.9L2368.2 640.4L2362.5 655L2358.8 668.4L2358.2 677.1M2420.9 515L2423.5 530.2L2426.8 546.1L2427.6 559.3L2432.3 570.6L2437.1 579.6M2592.6 483.8L2599.4 493.6L2607.5 505.4L2609.7 520.2L2611.1 538.5L2611.5 556.8L2613.2 572.8L2618.2 584.3M2505.1 415.9L2508.2 422.3L2510 429.8L2506.9 439.1L2507.7 450.3L2511.4 461.4L2514.8 470.4L2513.6 476.8M2326.8 402.4L2319.8 413.2L2316.6 423.6L2312.4 429.7L2311.3 435.9M2347.4 438.4L2344.4 455.6L2343 471.2L2338.1 485L2332.1 494.9M2360.1 377.7L2358.9 401L2360.4 421.2L2360.4 435M2348.1 425.9L2341.9 440.8L2335 455.3L2330.8 467.6L2330.2 475.5M2381.2 480.5L2380.6 494L2380.8 506.5L2379.6 515.8L2375.5 523.7L2376.4 529M2358.4 413.8L2357 443.3L2359.5 467.5L2359.4 485.8M2290.4 508.2L2282.7 525.9L2276.1 542.2L2264.9 557.3L2256.3 569.1L2248.9 577.7M2505.3 483L2502.5 490.1L2505.9 497.6L2505.4 508.3L2507.4 519.2L2512.4 530.9L2511 541.6L2508 547.7M2270.3 454.8L2256.5 471.5L2241 487L2233.2 501.1L2229.4 509.5M2530.2 447.8L2532.2 456.1L2537.1 466.9L2544.8 479.3L2548.6 493.5L2547.3 507.3L2547.8 517.9L2549.1 527.2" fill="none" stroke="#3c3c3c" stroke-width="1.2" stroke-linejoin="round" stroke-linecap="round"/>
<path d="M2286.4 403.1L2280.2 421.6L2274.5 440.8L2270.3 460.1L2266.2 479.1L2261.1 497.6L2253.4 515.1L2246.7 530.6L2239.1 546.6L2232 560.5M2361.2 428.3L2362 444.9L2364.6 459.7L2369.8 473.1L2376.3 486.4L2380.1 499.5L2382.2 514.7L2379.1 532.5L2378.2 551L2375.5 571.1M2388.9 365.3L2398 384L2405.7 403.3L2409.4 422.1L2411.7 440.8L2411.7 460.7L2415.4 479.4L2416.9 497.4L2420.9 515M2473.9 358.5L2491.1 380L2509.8 397.5L2527.2 413.4L2543.4 428.2L2556.7 441.9L2567.4 454L2575.7 465.6L2584.6 474.7L2592.6 483.8M2427.6 317.4L2439.4 332L2451.6 345L2462.3 358.4L2470.9 371.9L2479.6 384L2486 394.1L2489.5 403.4L2498 409.7L2505.1 415.9M2349.1 307.5L2345.8 328L2341.9 350.7L2339.9 371.1L2333 388.4L2326.8 402.4M2354.2 360.9L2354.8 377.2L2354.9 392.1L2350.9 407.8L2350.1 422.9L2347.4 438.4M2365.6 313.3L2365.6 333.1L2362.7 354.7L2360.1 377.7M2352.4 345.1L2352 361.8L2351.9 379.3L2352 395.6L2353.3 410.1L2348.1 425.9M2367.4 340.2L2370.1 352.6L2372.4 365.3L2375 381L2374.5 399.4L2376 421.2L2374.7 443.4L2376.8 463.7L2381.2 480.5M2364.8 331.8L2365 356.7L2363.4 384.2L2358.4 413.8M2335.9 348L2330.1 366.7L2326.9 385.7L2321.8 404.6L2317.6 425.3L2313.2 446.8L2306.4 469.2L2296.2 489.9L2290.4 508.2M2425.3 329.6L2436.5 347.6L2447.1 367.5L2457.2 390.1L2467.1 413.9L2479.4 435.7L2488.9 453.7L2496.1 466.8L2503.3 475.1L2505.3 483M2299 368.4L2293 387.1L2289.7 405L2286.5 422.7L2278.4 439L2270.3 454.8M2442 325.7L2453.5 341.4L2465 357.5L2477.9 373.7L2491.2 389.5L2506.5 405.3L2516.2 418.9L2522.7 429.9L2527.3 438.8L2530.2 447.8" fill="none" stroke="#3c3c3c" stroke-width="1.9" stroke-linejoin="round" stroke-linecap="round"/>
<path d="M2367.5 245.3L2361.7 256.6L2353.8 272.3L2345.1 290.8L2335.2 310.3L2326.3 328.8L2316 346.9L2305.3 365.6L2295.5 384.2L2286.4 403.1M2367.5 245.3L2366.8 260.1L2365.8 281.1L2364.1 305.3L2363.4 330L2362.6 352.1L2362.7 372.1L2362.5 391.4L2361.7 410L2361.2 428.3M2367.5 245.3L2368.4 256.5L2369.8 272.3L2371.2 290.8L2372.8 310.2L2376.3 328.8L2382 346.8L2388.9 365.3M2367.5 245.3L2371 247.1L2375 248.7L2380.6 251.8L2388.8 257.9L2400 268.4L2415.3 285.9L2434.7 308.7L2454 333.7L2473.9 358.5M2367.5 245.3L2369.4 247.1L2371.9 249.2L2375.4 252.2L2380.7 256.8L2386.8 263.9L2394.8 274.5L2404.6 287.8L2415.4 302.4L2427.6 317.4M2367.5 245.3L2365.9 250.6L2363.6 257.6L2360.9 266.4L2356.5 277.5L2353.1 290.2L2349.1 307.5M2367.5 245.3L2365.5 259L2362.2 278.3L2358.8 300.7L2355.1 323.5L2354.1 343.7L2354.2 360.9M2367.5 245.3L2366.5 257.2L2366 273.5L2365.6 292.8L2365.6 313.3M2367.5 245.3L2365.4 256.7L2363 272.6L2360.5 291.4L2358.3 310.4L2355 328.4L2352.4 345.1M2367.5 245.3L2367.4 255L2367.1 268.6L2367.5 284.6L2367.1 300.7L2366.5 315.7L2366.7 328.6L2367.4 340.2M2367.5 245.3L2366.8 260.3L2366.2 281L2366.4 305.5L2364.8 331.8M2367.5 245.3L2364.2 254.3L2360.2 266.8L2355.1 281.6L2350.4 297.8L2346.4 313.9L2341.2 330.4L2335.9 348M2367.5 245.3L2369.3 248.7L2372 253L2375.1 258.7L2379.8 266L2385.1 275L2392.7 286.4L2402.1 299.1L2412.9 313.8L2425.3 329.6M2367.5 245.3L2358.9 259.8L2347.2 280.2L2333.8 304L2320.1 328L2308 349.4L2299 368.4M2367.5 245.3L2370.1 247.2L2373 249.4L2377 252.7L2381.9 258L2388.9 265.7L2400 277.3L2412.7 291.9L2427.8 308.6L2442 325.7" fill="none" stroke="#3c3c3c" stroke-width="2.8" stroke-linejoin="round" stroke-linecap="round"/>
<path d="M2228.5 613.5L2212.9 636.2L2199.4 653.9L2189.4 664.4L2182.9 670.5L2178.3 672.1L2174.3 673.8L2170.2 674.8M2294.2 561.3L2284.9 583.3L2270.3 607L2255.3 629.2L2244.7 647.6L2237.5 660.9M2353.9 369.6L2350.4 391L2349.3 408.7L2348.9 421.8M2272.7 471.2L2258.1 493.2L2247.1 513.6L2236.3 530.9L2227.9 543.8M2535.8 456.3L2539.3 465.5L2546.6 475.1L2547.9 488.2L2545.5 503.3L2546.1 516.3L2548.8 529.8L2552.9 538.2M2353.2 345.5L2348.1 355.8L2346.4 364.7L2348.6 370.8M2592.9 517.7L2598.3 530L2605.2 543.2L2610.2 559L2610 578.6L2611.9 598.3L2611.4 614.1L2616.6 625.9" fill="none" stroke="#1c1c1c" stroke-width="1.6" stroke-linejoin="round" stroke-linecap="round"/>
<path d="M2300.1 425.2L2293.9 445L2289.4 463.6L2285.5 481.7L2281.5 499.3L2276.7 517.9L2268.6 537.6L2258.7 561L2243.6 587L2228.5 613.5M2335.7 373L2330.9 397L2326.9 421L2321.2 444.7L2315.9 468.2L2310.7 492.5L2306.4 515.6L2301 538.6L2294.2 561.3M2361.1 310.4L2359.5 328.8L2356.2 348.1L2353.9 369.6M2307.3 384.6L2303.4 402.6L2300.4 418.8L2294.5 435.4L2282.7 452.5L2272.7 471.2M2439.8 327.1L2454.2 343.5L2467 360.3L2483.6 377.7L2497.3 394.1L2510.1 410.4L2517.6 424.8L2522 437.6L2527.5 446.4L2535.8 456.3M2360.8 306.4L2358.7 321.3L2357.5 333.4L2353.2 345.5M2466.9 355.9L2485.4 377.5L2503.2 398.9L2521.9 419.9L2542.2 441L2556.2 461L2569.8 479.4L2577.3 494.1L2585.9 506.2L2592.9 517.7" fill="none" stroke="#1c1c1c" stroke-width="2.5" stroke-linejoin="round" stroke-linecap="round"/>
<path d="M2367.5 245.3L2363.1 258.5L2357.1 277.1L2350.4 298.9L2342.9 321.5L2335.3 342.8L2327 363.2L2317.8 383.8L2308.6 404.6L2300.1 425.2M2367.5 245.3L2364.4 256.2L2360 271.2L2354.8 289.1L2348.9 308.7L2343.7 328.8L2339.5 349.9L2335.7 373M2367.5 245.3L2366.2 256.6L2364.1 272.3L2362.7 290.9L2361.1 310.4M2367.5 245.3L2360.1 262.2L2349.3 286.3L2336.6 314.1L2324.1 341.7L2314.3 365.6L2307.3 384.6M2367.5 245.3L2369.8 247.4L2372.7 249.7L2376.7 253.3L2382.2 258.7L2390.6 266.7L2401 278.3L2413.7 293.2L2427.3 309.5L2439.8 327.1M2367.5 245.3L2365.8 256L2363.9 271.7L2363.2 289.3L2360.8 306.4M2367.5 245.3L2370.8 247.8L2374.8 250.7L2379.9 254.9L2387.4 262L2398.2 272.6L2412.9 288.7L2430.1 309.4L2448.5 332.5L2466.9 355.9" fill="none" stroke="#1c1c1c" stroke-width="3.6" stroke-linejoin="round" stroke-linecap="round"/>
<path d="M2328.4 514.4L2323 536.1L2315.3 556.3L2308.3 572.4L2302.5 584.3M2406.6 608.2L2406 620.8L2404.6 630.7L2403.4 636.5L2400.7 639.3L2397.1 639.6L2392.9 639.9L2393 640M2475.8 586.1L2473.8 600.2L2469.9 615.2L2465.5 630.5L2459.6 648.8L2453.6 669.9L2448.4 690.7L2444.4 708.2L2441.8 721.2M2322 412.1L2320 425.7L2318.8 437.5L2318.8 447L2316.4 454.3" fill="none" stroke="#101010" stroke-width="2.1" stroke-linejoin="round" stroke-linecap="round"/>
<path d="M2346.4 378.6L2344.7 407.8L2341.5 437.5L2337.9 465.8L2333.5 491.3L2328.4 514.4M2386.8 446.3L2390.4 468.1L2394.3 488.7L2398.8 508L2403.8 526.7L2407.6 544.1L2409.8 561.2L2409.4 577.6L2408.6 593.3L2406.6 608.2M2436.8 442.5L2444.7 462.9L2451.3 482.1L2458.9 499.4L2465.2 514.6L2469.7 526.4L2474.2 535.6L2477.4 542.8L2477.9 550.8L2477.7 561L2477 573L2475.8 586.1M2340.2 331.3L2336.4 348.8L2333.3 366.4L2328.9 383.6L2325.6 398.5L2322 412.1M2367.5 245.3L2366.2 249.4L2364.4 255L2362.5 261.7L2360.8 269.1L2359.3 276.4L2357.5 285.1L2355.4 295L2353.9 305.1L2351.6 313.8L2351.3 319.8M2367.5 245.3L2368.8 247.1L2370.6 249.4L2373 252.4L2375.9 256.1L2379.3 261L2384.9 268.2L2393 277.1L2400.5 286.5L2408.3 294.5L2412.6 300.5M2367.5 245.3L2365.2 249.3L2362 254.9L2358.2 261.5L2354.8 268.3L2351.6 274.8L2348.2 281.8L2344.8 289.4L2340.1 296.9L2336.4 303L2335.6 307.8M2367.5 245.3L2368.6 245.8L2369.8 246.3L2372 247.1L2374.5 248.9L2378.2 251.6L2382.9 256.9L2388.3 263.6L2393.4 271.3L2398.5 278.1L2402.6 282.5M2367.5 245.3L2368.5 246.9L2369.8 249L2372 251.7L2374.4 255L2377.8 259.4L2383.1 265.6L2389.2 273.9L2397.1 282.2L2403.5 289.3L2408.6 294.7M2367.5 245.3L2368.5 246L2370.2 246.5L2372.2 247.6L2374.5 249.5L2377.4 253.3L2383 259.6L2390.6 268L2398.4 277.1L2406.3 285.3L2409.7 291.1M2367.5 245.3L2368 247.3L2369 250.1L2369.9 253.3L2371.3 257.2L2372.6 261.8L2373.8 267.7L2376.6 274.8L2380.3 282.1L2382.7 288.8L2384.1 293.5M2367.5 245.3L2367.8 248.8L2367.7 253.6L2367.8 259.3L2367.9 265.1L2368.7 270.9L2371 276.9L2373.7 283.6L2376.7 289.9L2379.3 295.6L2380.4 299.3M2367.5 245.3L2367.5 253.2L2367.5 264.3L2367 277.2L2366.6 290.4L2366 302.1L2365.1 313.3L2365.3 324.8L2365.5 335.6L2365.4 345.1L2364.2 351.7M2367.5 245.3L2368.6 247.7L2370.3 250.8L2372.2 254.7L2373.9 259.3L2376.7 264.8L2380.9 271.8L2387 280.5L2393.2 290L2399.1 298L2401.6 303.4M2367.5 245.3L2368.7 246.1L2370.3 246.8L2372.7 248.1L2376.1 250.7L2381.3 255.2L2388.3 263.2L2397.7 273.7L2406.7 285.3L2415.7 295.6L2422.1 302.7M2367.5 245.3L2368 248.9L2368.5 253.5L2368.9 259.4L2370.8 266.3L2373.3 274.2L2377.7 284.6L2383.2 297.1L2388.1 310.2L2392.6 321.7L2396.5 329.7M2367.5 245.3L2365.7 247.1L2362.9 249.4L2359.3 252.2L2356 256L2353.2 260.6L2350.8 266.7L2347.2 274.5L2343.9 283.1L2339.8 290.3L2338.6 295.3M2367.5 245.3L2367.7 251L2367.8 258.9L2367.6 268L2368.2 277.9L2368.6 287L2370.4 296.7L2372.6 307.3L2374.3 317.2L2375.1 326.2L2375.7 332.4M2367.5 245.3L2368.4 248L2369.3 251.6L2370.8 256L2373 261.4L2377.1 267.6L2382.2 275.7L2388.1 285.6L2394.6 296.1L2399.5 305.3L2405 311.8M2367.5 245.3L2366.3 252.3L2364.9 262.1L2363.5 273.6L2361.7 285.5L2360.5 296.2L2358.9 307.1L2357.6 318.2L2357.1 329.2L2357.8 338.6L2357.2 345.1" fill="none" stroke="#101010" stroke-width="3.4" stroke-linejoin="round" stroke-linecap="round"/>
<path d="M2367.5 245.3L2364.9 259.4L2360.9 278.8L2356.5 302L2352.5 327L2349.3 352.2L2346.4 378.6M2367.5 245.3L2367.9 259.7L2368.3 279.9L2368.8 303.6L2370 328.5L2372 352.2L2375.2 375.1L2378.9 398.9L2383.1 422.9L2386.8 446.3M2367.5 245.3L2368.8 252.7L2370.5 262.5L2372.9 274.6L2376.4 289.1L2381.5 305.7L2388.4 325.7L2397.9 349.2L2408.1 374.3L2418.7 399.1L2428.2 421.7L2436.8 442.5M2367.5 245.3L2364.3 254.6L2359.8 267.5L2354.1 282.7L2348.5 299.1L2343.8 315.1L2340.2 331.3" fill="none" stroke="#101010" stroke-width="4.9" stroke-linejoin="round" stroke-linecap="round"/>
<path d="M2360.5 245.3L2376.8 245.3L2379.6 305.7L2367.5 380L2358.2 435.7L2349.8 370.7L2352.6 305.7Z" fill="#111" opacity="0.8"/>
<path d="M2355 185.7L2356.4 208.2L2357.8 230.7L2359.2 253.2L2377.7 251.4L2374.7 229.1L2371.8 206.7L2368.8 184.3Z" fill="#0c0c0c"/>
<path d="M2389.8 187.4L2382.8 203.1L2375.8 218.8L2368.8 234.5L2375.5 237.7L2383.3 222.4L2391.2 207.1L2399 191.8Z" fill="#0c0c0c"/>
<path d="M2325.3 200.2L2335.8 211L2346.3 221.9L2356.9 232.7L2359.5 230.1L2349 219.3L2338.5 208.5L2328 197.6Z" fill="#0c0c0c"/>
<path d="M2983.2 208.2L2989.1 207.1L2997.1 205.3L3005.7 203.4L3016.8 202.9L3024.5 203.6L3032.9 207.8L3040.2 213.5L3044 218.8L3046.4 224.8L3052.8 229.1M2971.6 217.5L2969.9 228.5L2968.1 243.8L2966.3 262L2962.7 282.1L2959.3 302.1L2955 324.2L2950.6 350L2946.1 374.9L2946.2 398.4L2944.9 416.8L2940.4 430.2L2937.4 440.9L2932.8 448.3L2929.7 453L2932 457M2971.6 217.5L2972.6 228.1L2974.2 243.2L2975.9 260.9L2978.4 278.7L2979.8 295.1L2983.4 310.1L2987.1 325.2L2992.7 339.5L2997.4 353.3L3001.9 365.9L3004.2 375.4L3007.1 385L3010.7 392L3014.6 400.4L3017.2 407.8L3021.3 416.8L3025.1 425.4L3025.5 434.7L3023.8 443.4L3024.1 451.1L3026.8 458.3L3032.5 467L3036.3 472.8L3036.3 480.1L3035.4 483.6M2971.6 217.5L2966.9 235.8L2959.8 262.1L2951.7 292.1L2944 321.6L2937.4 346.8L2933.2 365.8L2932.3 383.2L2930.5 398.5L2928 412.9L2923.2 427.1L2920.4 440.4L2916.4 453.3L2913.6 466.8L2913.5 477.6L2912.7 489.4L2909.3 500.7L2901.9 510.9L2898.4 520.6L2895.3 530.4L2898 536.2" fill="none" stroke="#b4b4b4" stroke-width="1.2" stroke-linejoin="round" stroke-linecap="round"/>
<path d="M2759.4 560.7L2749.2 580.3L2747 598.5L2742.2 617.2L2738.2 632.5L2732.5 644.6M2974.5 665.4L2972.1 686.6L2967.9 706.2L2967.9 723.3L2968.3 740.2L2960.9 755.1L2952.5 769.4L2942.4 780.5L2941.4 788.5M2979.4 515L2980.4 536.3L2982.6 556.3L2990.1 572.1L2987.8 584.3M3144.8 589.8L3146.7 603.9L3148.9 617.9L3148.9 631.5L3143.8 642.7L3143.3 653.8L3144.8 663.8L3141.9 671.6L3141 677.1M3097.4 398.4L3106 406.7L3114.1 414.3L3117.1 421.4L3121.6 426.6L3122.5 431M3028.8 624.2L3026.6 638.9L3027.1 653.6L3027.7 669.8L3026.8 688.2L3022.5 707.3L3019.2 722.6L3020.3 732.8M2887.8 723.2L2879.3 739.2L2867 750.4L2857.1 758.7L2848.1 765.6L2848.6 770M2724.3 778.9L2726.5 786.2L2729.8 795.4L2734.4 803L2741.8 807.1M3015.8 472.2L3019.6 487.1L3023.7 498.8L3026.4 509.8L3034.7 517.3M3019.8 441.7L3024.3 450.3L3026.6 459.5L3025.9 467.2L3022.7 475.9L3024.3 483.2L3022.6 490.9L3026.6 495.6M2859.4 439.1L2857.5 449.9L2852.9 460.3L2849.4 467L2847.6 473L2851 478.3M3080.9 484.8L3083.9 494.8L3085.2 504L3088.4 513.1L3085.3 520.3L3084.3 526.1L3078.6 532.6L3082 536.2M2811.2 646.8L2809 656.7L2806.4 667.2L2802.1 680.5L2794.3 695.8L2786.6 708.3L2778 721.1L2775.8 729.3M2967.9 382.9L2967.1 393.3L2970.2 402.1L2974.2 409L2969.5 415.4M3016.1 434.3L3018.8 444.1L3021.9 453.7L3025.4 461.7L3021.7 469.6L3021.8 474M2866 503.2L2864.9 509L2862.3 516.3L2859.5 526L2857.9 535.5L2853.6 543.1L2847.6 551.9L2845.2 557.1M2982.1 414.9L2985.3 429L2989.2 441.2L2986.7 450.8L2987.9 459.1M2961.6 351.5L2963.3 360.7L2963.9 368.7L2960.8 375.7M3033.1 419.7L3038.8 428.9L3042.7 437.2L3042.8 443.3L3044.4 449L3041.2 455.1L3044.8 459.9L3047.4 462.3M3036.4 525.5L3037 537.1L3036.5 549.8L3033.6 561.4L3036 572.7L3034.8 584.5L3038.8 594.3L3039.5 601.1M3051.7 544.1L3052.8 558.4L3051.3 572.8L3055 584.8L3060.7 596.1L3058.2 603.1M2926.8 441.1L2919 452.6L2917.4 463.8L2912.2 475.1L2911.3 484.8L2909.4 490.8" fill="none" stroke="#7a7a7a" stroke-width="0.9" stroke-linejoin="round" stroke-linecap="round"/>
<path d="M2868.3 385.2L2848.8 414.3L2830.2 442.9L2815 468.3L2804.7 489.8L2793.3 509.6L2780.2 527L2766.7 543.2L2759.4 560.7M2948.2 513.4L2948.7 534L2946.5 552.5L2945.2 569.5L2944.8 584.3L2946.9 595.8L2954.9 603.7L2964.6 611.5L2972.2 619.1L2975.3 630.8L2975.9 646.3L2974.5 665.4M2974.6 380.8L2976.5 410.1L2978.8 438.7L2979.8 466.3L2979.4 491.9L2979.4 515M3081.6 438.6L3088.1 452.9L3094.6 465.4L3102.3 478.1L3108 491L3116.5 505.1L3123.9 519.1L3128.3 532.9L3129.8 547.7L3135.1 561.6L3137.4 574.7L3144.8 589.8M3027.6 307.1L3039.1 319.3L3053.1 331.1L3064.4 343.3L3072.3 355.1L3078 366.7L3085.6 378L3089.7 388.7L3097.4 398.4M3019 516.3L3023.1 537.4L3029.5 552.4L3035.1 561.9L3041.4 568.6L3045.4 574.5L3046.7 584.1L3040.9 597L3035.5 610.2L3028.8 624.2M2935.9 474.7L2930.6 513.4L2926.1 550.2L2916.8 584.5L2911.5 616.8L2904.9 648.3L2899.2 677L2893.3 702.7L2887.8 723.2M2752 736.5L2743.9 744.9L2735.3 753L2729 761.7L2725.6 769.6L2724.3 778.9M2834.6 723.5L2823.3 724L2813.2 724.4L2803.3 724.9L2791.5 725.3L2778.9 725.8M2839.3 779.2L2835.4 783.8L2830.7 788.3L2826.1 793.1L2819.1 797.8L2816.1 802.5M2941.4 788.5L2936 793.1L2931.7 798L2926.8 802.1L2924.5 807.5L2918.2 811.7M2986.7 381L2990.3 402.6L2994.7 421.9L2998.4 440.3L3007.2 456.1L3015.8 472.2M2995.5 364.9L2999.5 377.6L3005.2 387.2L3010.4 395.1L3013.5 402.5L3015.5 409.2L3015.5 416.1L3017.8 424.9L3016.3 433.5L3019.8 441.7M2919.2 307.9L2910.8 321.7L2901.8 336.2L2892.7 351.5L2882.9 368.5L2874.2 387.3L2865.9 405.8L2861.9 423.7L2859.4 439.1M3027.4 348.6L3035.4 365.1L3042.6 382L3051.4 400.4L3060.8 418L3068.9 434.7L3073.3 449.7L3076.4 462.6L3078.6 475.4L3080.9 484.8M2890.6 424.3L2881.1 448.6L2870.8 478.1L2860.4 511.7L2849.6 546.5L2840.1 578.1L2830.4 604.1L2821.6 622.7L2815.8 635.7L2811.2 646.8M2971.6 321L2972.1 335.2L2972 347.8L2968.6 359.7L2968.1 371.2L2967.9 382.9M2995.3 335.5L3001.3 348.9L3006.9 362.7L3012 375.9L3017.5 388.4L3019.1 401.4L3018.3 412.7L3017.7 424.8L3016.1 434.3M2919.6 354.4L2913.4 370.6L2905.7 390.3L2896.8 413.6L2890.8 436.4L2886.2 457.9L2879.7 476L2875 487.6L2870.7 496.7L2866 503.2M2976.4 325.9L2978.1 345.5L2976.3 365L2976.6 383.9L2978.2 399.2L2982.1 414.9M2967.2 304.7L2964.5 323.9L2960.8 338.1L2961.6 351.5M2997.7 332L3002.6 343.9L3007.1 354L3010.9 364.4L3018 373.2L3021.6 382.4L3022.7 391.3L3025.1 400.7L3026.2 411.4L3033.1 419.7M3006.1 425.1L3012.8 442L3019.4 454.5L3022.5 464.8L3026.5 473.1L3028 482.2L3029.8 491.1L3033.3 502.8L3035.4 514.8L3036.4 525.5M3012.2 394L3021.2 414.9L3029.7 435L3037 454.1L3043.3 473.5L3048.4 492.9L3050.4 511.2L3050.1 529L3051.7 544.1M2949.6 327.8L2945.4 344.3L2942.1 359.8L2938.2 374.9L2934.3 389.9L2934.1 403.5L2933.6 415.9L2928.9 428.4L2926.8 441.1" fill="none" stroke="#7a7a7a" stroke-width="1.5" stroke-linejoin="round" stroke-linecap="round"/>
<path d="M2971.6 217.5L2962.6 232.2L2950.1 252.7L2936.2 277.1L2920.4 303.1L2905.3 328.9L2888.6 355.7L2868.3 385.2M2971.6 217.5L2969.9 235.8L2967.4 261.4L2964.6 291.4L2962.1 322.6L2960 352.1L2958.9 380.5L2956 410L2953 438.8L2950.9 466.3L2950.5 491.5L2948.2 513.4M2971.6 217.5L2972.1 235.8L2972.9 261.5L2972.7 291.4L2972.6 322.8L2972.9 352.3L2974.6 380.8M2971.6 217.5L2975.2 229L2979.7 245.1L2985.7 264.2L2992.7 284.8L3001.5 305.7L3012.9 327.8L3028.1 352.1L3044.3 377.4L3060.3 401.3L3072.2 422.1L3081.6 438.6M2971.6 217.5L2975.9 226.4L2982.3 239.1L2990 253.8L2998.4 268.6L3007 282.7L3015.5 295.1L3027.6 307.1M2971.6 217.5L2973.7 242.8L2975.8 279L2978.6 320.5L2982.2 362.2L2987.3 398.6L2994.8 430.7L3002.8 461.6L3011.6 490.8L3019 516.3M2971.6 217.5L2968.5 242L2963.7 276.7L2957.8 317.2L2951.2 359.3L2944.8 398.8L2940.8 436L2935.9 474.7M2774.3 693.4L2772.9 697.9L2771.2 704.4L2768.7 712.2L2764.7 720L2760.1 728.2L2752 736.5M2971.6 217.5L2972.7 237.4L2974.1 265.9L2976.6 298.5L2980.6 330.8L2982.8 358.5L2986.7 381M2971.6 217.5L2972.6 229.3L2973.9 246.2L2975.4 265.8L2977.8 285.7L2980.8 303.4L2984.7 319.6L2989.5 335.5L2993.2 351L2995.5 364.9M2971.6 217.5L2967.1 226L2960.8 237.9L2953.4 252L2945 266.6L2935.8 280.8L2926.7 294.1L2919.2 307.9M2971.6 217.5L2973.9 226.4L2976.8 238.9L2980.1 253.5L2985.1 269.1L2991.4 284.7L2999 299.7L3008.3 315.6L3018.7 332.1L3027.4 348.6M2971.6 217.5L2965.3 234.6L2956.3 259L2945.6 287.2L2935.1 315.9L2926 341.7L2917 363.5L2909.8 383.4L2901.3 403.3L2890.6 424.3M2971.6 217.5L2971.5 229.9L2971.4 247.6L2970.7 268L2969.6 288.1L2969.4 305.8L2971.6 321M2971.6 217.5L2973 229.7L2975.5 247.2L2978.1 267.5L2981.9 287.8L2985.4 305.6L2989.6 321L2995.3 335.5M2971.6 217.5L2967.6 228.8L2962 244.9L2955 263.5L2947.6 282.4L2940.8 299.3L2936.1 314L2931.5 327.3L2925.9 340.5L2919.6 354.4M2971.6 217.5L2971.8 229.6L2972.2 246.6L2972.5 266.5L2974 287.3L2976.1 306.9L2976.4 325.9M2971.6 217.5L2970.4 232.9L2970 254.8L2968.7 280.3L2967.2 304.7M2971.6 217.5L2972.7 226L2974.1 238.1L2975.8 252.1L2978.6 266.7L2981.3 280.4L2985.6 293.3L2990.8 306.2L2995.6 319.3L2997.7 332M2971.6 217.5L2972.9 234.4L2974.7 258.4L2977.6 286L2980.7 314.2L2984.8 339.3L2989.3 361.7L2994.4 383.9L2999.6 405.5L3006.1 425.1M2971.6 217.5L2974.3 235.9L2977.8 262L2982.5 291.9L2987.9 322.3L2995 348.9L3003 372.2L3012.2 394M2971.6 217.5L2969.5 228.1L2966.1 242.8L2962.3 260.1L2958.8 278.3L2956.4 295.1L2954 311.1L2949.6 327.8" fill="none" stroke="#7a7a7a" stroke-width="2.2" stroke-linejoin="round" stroke-linecap="round"/>
<path d="M2804.6 630.3L2801.5 640.8L2796.1 653.8L2786.2 668.6L2772 682.7L2761.1 698.2L2756.7 709.7L2751.1 718.9M2842.3 698.2L2841.1 706.3L2834.2 715L2832.8 724.1L2831.7 735.4L2833.5 747.5L2839.8 760.5L2842.2 771.3L2839.3 779.2M2884.9 607L2882 631.6L2877.2 656.1L2866.5 680.2L2861.9 700.4L2857.8 714.2M3102.5 597.1L3103 614.9L3106.1 630.6L3110.7 644.2L3110.7 655L3113.6 664.6L3115.5 672.1L3113.2 677.1M3119.6 572.8L3119.2 585.4L3122.1 596.1L3122.4 607.6L3125.9 617.8L3123.4 627.3L3121.2 633.6L3119.6 639.1M2954 540.8L2948.5 563.8L2944.6 586.9L2937.7 607L2939.5 620.8M2781.6 551.5L2774.9 568.2L2767.4 585.5L2765.4 600.4L2766.5 613.6L2763.4 622M2809.2 584.8L2804.8 595.8L2798.5 606.5L2792 619.1L2786.8 633.6L2785.1 646.1L2783.7 656.8L2780.3 665.3M3051.4 603.5L3048.8 617.8L3052.5 631.7L3055.3 645.3L3060.9 661.3L3059.2 675.8L3061.6 686.5L3060.3 695.6M3069.4 402.6L3073.5 413L3073 426.6L3073 438.8L3071.1 449.8L3075.2 458.5M2963.8 514L2959.1 536.3L2952.1 559.9L2946.9 578.9L2946.4 591.7M2895.4 561.2L2890.8 574.7L2883.3 588.2L2883.7 599.6L2883 610.3L2879.7 617.1M2844.7 457.9L2838 471.4L2829.5 484L2825.9 492.8L2826.5 501L2822.3 508M2968.8 440.5L2968.9 458.7L2964.3 475.2L2964.4 487.9L2957.6 498.7M2865.8 540.7L2859.4 558.9L2856.4 575.9L2850 589L2843.3 599.6L2839.2 607.6M2960.7 387.7L2959.7 399.9L2955 411.8L2952.3 422L2953 429" fill="none" stroke="#3c3c3c" stroke-width="1.2" stroke-linejoin="round" stroke-linecap="round"/>
<path d="M2885.7 422.7L2876 445L2866.5 471.7L2855.2 501.2L2841.9 531.6L2830.5 560.3L2818.7 584L2812.9 602.3L2808.4 617.6L2804.6 630.3M2887.9 492.1L2883.6 516.2L2880.7 540L2877 562.8L2872.7 583.9L2867 604.9L2861.3 625.1L2855.1 644.7L2849.8 661.8L2848 676.9L2846.9 688.9L2842.3 698.2M2927.7 408.9L2922 437.1L2915.8 464.7L2910.8 491.1L2903.6 515.9L2897.5 539.8L2893 562.5L2888.9 585.5L2884.9 607M3043.5 423.4L3053.4 445.1L3061.7 464.9L3068.1 484L3071.9 502.2L3079.5 519.6L3084.5 538.1L3092.7 557.4L3096.9 577.2L3102.5 597.1M3046.7 389.1L3057.5 410.7L3069.5 434.1L3079 459L3089.8 483.2L3103 506.1L3109.8 526L3117.7 543.4L3119.2 559.2L3119.6 572.8M2951.8 421.9L2952.5 447.1L2956 471L2958.7 494.3L2959.3 516.2L2954 540.8M2882.8 367.5L2865.5 392.4L2848.4 417.4L2833.1 441.3L2820.6 465L2809.9 487.4L2801.2 510.3L2793.6 531.9L2781.6 551.5M2877 405.1L2866.7 426.5L2858.3 449.6L2846.3 473.8L2835.6 499.4L2824.3 522.8L2816.9 542.4L2812.6 558.7L2810.6 572.2L2809.2 584.8M3016.7 474.3L3022.2 495.3L3026.8 511.6L3032.2 525.3L3037.9 535.5L3045.8 546.6L3051.6 559.1L3051.3 573.4L3052.4 588.1L3051.4 603.5M3035.1 339.6L3040.3 347L3045.2 353.6L3047.7 360.6L3051.6 368.5L3056.8 377.2L3061.1 384.4L3066 392.4L3069.4 402.6M2955.7 413.5L2958.3 434.7L2959.7 454.2L2963.1 472.5L2965.8 491.2L2963.8 514M2925.3 422.1L2920.9 442.4L2915.9 461.5L2912.5 480.2L2908.6 498.7L2907.3 515.1L2905.3 531.4L2901.4 547.1L2895.4 561.2M2915.6 324L2905.4 339.9L2894.6 356.3L2883.1 373.5L2875.3 390.2L2866 408.7L2861.1 426.9L2853.9 443.6L2844.7 457.9M2965.1 371.4L2967.9 386.6L2969.5 399.4L2969.2 411.4L2969.2 425.3L2968.8 440.5M2927 355.2L2922.3 372.8L2915.4 391.9L2911.5 412.2L2902 437.4L2892.4 465L2881.7 492.8L2872.9 518.4L2865.8 540.7M2961.7 322.2L2959.1 336.3L2959 350.1L2958.3 362.9L2961.8 375.2L2960.7 387.7" fill="none" stroke="#3c3c3c" stroke-width="1.9" stroke-linejoin="round" stroke-linecap="round"/>
<path d="M2971.6 217.5L2964.8 234.9L2955.4 259.7L2944.1 288.3L2933.5 317.3L2923.2 342.9L2914.4 364.3L2905 383.6L2895.3 402.8L2885.7 422.7M2971.6 217.5L2966.3 234.6L2958.7 258.6L2949.7 286.7L2940.3 315.7L2931.4 342.9L2924.3 368L2916.5 393.4L2909.3 418.7L2901.9 443.6L2894.2 468L2887.9 492.1M2971.6 217.5L2967.5 235.7L2961.9 261.4L2955.7 291.5L2948.5 322.7L2941.2 352.3L2934.2 379.9L2927.7 408.9M2971.6 217.5L2974.6 232.5L2978.6 253.8L2983.8 278.6L2990.1 304.4L2996.8 329L3006.2 352.3L3017.6 376.1L3031.5 399.8L3043.5 423.4M2971.6 217.5L2974.8 229L2978.7 245.1L2983.8 264.2L2990 284.6L2997.2 304.5L3007.5 324.4L3020.4 345.4L3033.6 367.2L3046.7 389.1M2971.6 217.5L2968.7 242.3L2964.8 277.8L2960.9 318.5L2957.2 358.7L2954 393.2L2951.8 421.9M2971.6 217.5L2964 231.1L2953.1 250.1L2939.4 272.4L2925.5 296.2L2912.6 319.5L2898.9 343.2L2882.8 367.5M2971.6 217.5L2964.8 232.3L2955.8 253.4L2944.9 278L2934.3 303.1L2922.9 325.7L2911.1 346.4L2899.5 365.9L2887.4 385.1L2877 405.1M2971.6 217.5L2973.5 238.2L2976.2 267.8L2978.6 301.9L2981.8 336.6L2986 367.6L2992.2 395.6L3000.2 423.2L3009.4 449.6L3016.7 474.3M2971.6 217.5L2978.9 232.2L2989.3 253.5L3000.7 277.5L3011.3 300.3L3020.8 318.6L3028.1 330.5L3035.1 339.6M2971.6 217.5L2968.9 241.8L2965.2 276.7L2962.2 316.7L2958.6 355.6L2957.4 388L2955.7 413.5M2971.6 217.5L2966 239.8L2957.4 271.8L2948.2 308.5L2939.1 344.6L2932.9 375.1L2928.3 400.3L2925.3 422.1M2971.6 217.5L2966.5 227.6L2959.1 241.7L2950.1 258.1L2940.7 275.5L2932 291.9L2925 307.7L2915.6 324M2971.6 217.5L2970.1 236.8L2967.6 264.9L2964.7 296.9L2962.4 327.4L2963.5 352.8L2965.1 371.4M2971.6 217.5L2967.1 231.4L2961.1 251.2L2954.6 274L2947.4 297.5L2940.9 319L2934.7 337.7L2927 355.2M2971.6 217.5L2969.9 229.9L2967.8 247.8L2965.6 268.3L2964.4 288.9L2962.9 307.1L2961.7 322.2" fill="none" stroke="#3c3c3c" stroke-width="2.8" stroke-linejoin="round" stroke-linecap="round"/>
<path d="M3087.5 614.2L3093.6 630.5L3099.1 644.5L3102.6 657.7L3109.5 670.2L3113.1 680L3119 689.6L3120.1 695.7M2991.1 462.9L2995.4 479.8L2997.8 493.9L2997.8 506L3001.8 514.6M2940.9 462.8L2939 479.3L2935.9 494.3L2935.7 505.6L2936.8 514.6M2814.4 520.9L2804.3 537.4L2798.5 550.7L2792.3 564L2791.9 573.9L2787.8 581.1M2898 511L2890.2 524.6L2888.7 542L2887.3 557.4L2889.8 569.7L2886.9 579.5M2955.1 450.7L2949.1 475.4L2946.9 495.6L2951 510M2995 379.1L2999.8 388.6L3005.3 397L3011.8 402.6L3012.3 407.9M2975.2 356.4L2979.6 364.6L2982.4 373L2985.2 379.8L2981.8 384.5M2975 455.6L2978.7 472.9L2980.3 488.3L2979.7 500.4L2979.1 509.2M3084.9 433.9L3086.7 443.5L3088.5 451.3L3092.6 458.6L3096.5 461.9L3102.1 466.4" fill="none" stroke="#1c1c1c" stroke-width="1.6" stroke-linejoin="round" stroke-linecap="round"/>
<path d="M3017.1 445L3025.9 468.4L3032.9 489.1L3039.7 508L3046.3 526.2L3053.7 543.8L3061.5 561.2L3070.5 578.9L3078.4 596.5L3087.5 614.2M2980.1 352.6L2981.6 377.1L2982.5 401.7L2985.5 424.6L2988.8 445.3L2991.1 462.9M2951.5 352.6L2948.6 377.1L2946.4 401.8L2944.8 424.7L2942.7 445.2L2940.9 462.8M2903 348.7L2892.1 368.2L2878.2 388.1L2866 409.3L2856 431.4L2846.3 455L2836.2 479L2825 501.4L2814.4 520.9M2921.5 400.3L2918.5 415.7L2913 430L2909.6 444L2907.7 457.8L2905.3 471.6L2905.8 484.3L2901.5 497.3L2898 511M2960.6 360.5L2958.6 395L2955.9 424L2955.1 450.7M2979.8 319.6L2983.5 333.9L2989.7 346.5L2992.9 358.4L2995 369.7L2995 379.1M2974.5 298.6L2975.5 312.1L2975.6 323.9L2974.8 335.7L2973.4 347.3L2975.2 356.4M2973.9 354.7L2974 377.5L2973.5 399L2973.2 420.1L2971.6 438.4L2975 455.6M3015.7 315.7L3025 329L3032.8 342.6L3040.8 356.6L3048.8 372.1L3056.7 388.8L3067.2 405.1L3079.6 420.5L3084.9 433.9" fill="none" stroke="#1c1c1c" stroke-width="2.5" stroke-linejoin="round" stroke-linecap="round"/>
<path d="M2971.6 217.5L2973.5 234.5L2976 258.6L2979.4 286.7L2983.4 315.7L2987.9 342.9L2993.5 368.4L3000.6 394.5L3008.4 420.4L3017.1 445M2971.6 217.5L2972.4 232.6L2973.7 253.8L2975.3 278.7L2977.5 304.4L2979.3 328.8L2980.1 352.6M2971.6 217.5L2969.4 232.6L2966.2 253.8L2962.7 278.6L2958.7 304.5L2955.1 328.9L2951.5 352.6M2971.6 217.5L2965.3 230.1L2956.4 247.7L2945.7 268.5L2934.2 290L2923.8 310.5L2914.7 329.6L2903 348.7M2971.6 217.5L2965.4 238.2L2956.3 268L2945.9 301.8L2936.9 335L2930 362.2L2925.5 382.9L2921.5 400.3M2971.6 217.5L2969.4 242.5L2966.1 278.6L2961.9 319.8L2960.6 360.5M2971.6 217.5L2972.7 229.8L2974 247.3L2976 267.6L2976.4 287.3L2977.6 305L2979.8 319.6M2971.6 217.5L2972.2 226.9L2972 240.2L2972.1 255.6L2972.5 271.4L2972.6 285.7L2974.5 298.6M2971.6 217.5L2971.6 233.3L2971.2 255.6L2971 281.5L2970.9 308L2972.6 332.5L2973.9 354.7M2971.6 217.5L2975.1 227.2L2979.1 240.9L2984.4 257L2990 273.2L2996.5 288.6L3005.3 301.8L3015.7 315.7" fill="none" stroke="#1c1c1c" stroke-width="3.6" stroke-linejoin="round" stroke-linecap="round"/>
<path d="M2778 605.4L2776.7 618L2774.3 630.4L2773.3 644.8L2772.1 659.2L2772.4 673L2774.4 685.3L2774.3 693.4M2942 629.9L2947.1 642.6L2951.1 654L2955.4 664.2L2960 673.9L2967.2 681.5L2972.8 688.1L2976.2 693.4M3070.2 632.4L3079.1 643.5L3086.5 654L3093.4 663.5L3101.1 670.6L3107.5 676.8L3111.7 681.7L3116.6 685.9L3117.8 688.7M2966.9 370.8L2966.3 379.6L2963.6 387.1L2964 394.1L2964.6 398.6M2958 340.2L2956 356.3L2954.8 370L2955.3 380" fill="none" stroke="#101010" stroke-width="2.1" stroke-linejoin="round" stroke-linecap="round"/>
<path d="M2852.5 421.7L2839.1 444.9L2827.4 469L2815.9 493.5L2805.3 517.9L2795.8 540.6L2787.9 560.8L2782 578L2778.8 592.8L2778 605.4M2934.2 458.1L2932.3 482.2L2930.9 504.7L2929.6 526.7L2928.5 547.1L2928.7 566.5L2928.9 584.1L2931 600.7L2936.1 615.8L2942 629.9M2999.9 485.1L3003.2 499.3L3007.6 512.3L3011.4 524.7L3016.5 537.9L3021.9 552L3027.9 566.3L3035.8 580.5L3044.3 594.6L3052.9 607.3L3062 619.8L3070.2 632.4M2968.3 319.3L2967.4 331.3L2967.8 341.9L2967.7 352L2967.4 361.6L2966.9 370.8M2964.8 287.4L2963 305.7L2960.4 322.6L2958 340.2M2971.6 217.5L2970.3 222.5L2968.2 229.5L2965.6 237.7L2963.7 246.2L2961.7 254.1L2959.6 261.9L2957 270.6L2953.7 278.9L2951.4 285.9L2950.7 290.7M2971.6 217.5L2970.2 228.1L2968.3 243.1L2966.4 260.5L2963.7 278.7L2961 295.7L2958.3 312.8L2955.5 331.6L2953.1 349.3L2951.3 365.2L2949 375.9M2971.6 217.5L2969.5 221.4L2966.8 226.9L2963.3 233.4L2959.6 240.3L2955.6 246.5L2952 252.9L2948 260.2L2944.1 266.7L2941.2 272.8L2937.9 276.8M2971.6 217.5L2972.7 220.8L2974 225.4L2975.8 230.9L2978.2 236.8L2980.8 242.8L2984.8 249.3L2989.1 257.1L2993.8 264.8L2996.4 271.2L2999.7 275.9M2971.6 217.5L2969.3 224.6L2965.9 234.6L2962.4 246.3L2958.9 258.3L2955.8 269.5L2952 280.9L2947.9 293.1L2943.5 304.6L2940.7 314.9L2939.8 321.8M2971.6 217.5L2970.1 229.4L2967.8 246.2L2965 265.9L2961.6 286.1L2958.9 305.2L2955.8 324.6L2952.7 345.5L2950.2 365.5L2948 383L2945.2 395.4M2971.6 217.5L2973.5 223.5L2975.9 232L2978.6 242L2982.1 252.9L2987 263.7L2993.3 276L3002.8 290.2L3011.9 303.9L3020 316.1L3024.8 324.8M2971.6 217.5L2972 227.2L2972.6 240.9L2972.9 256.9L2973 273.6L2973.3 289.3L2973.4 305.1L2974.3 322.3L2975.6 339.2L2976.4 353.6L2975.5 363.5M2971.6 217.5L2969.4 223.1L2966.2 231.1L2962.8 240.3L2959.5 249.6L2956.5 257.8L2952.3 265.4L2948.4 272.9L2943.6 280.2L2940.8 286.5L2939.5 290.8M2971.6 217.5L2967.3 224.5L2961.4 234.3L2954.6 245.9L2946.5 258.2L2938.1 270.7L2929.7 284.2L2919.9 299.4L2910.8 314.7L2904.2 327.7L2896.9 337M2971.6 217.5L2973.2 220.3L2975.5 224.3L2978.1 229L2980.3 233.7L2982.8 238L2985.7 242.3L2989.5 246.7L2994.5 251.1L2997.3 254.2L2998.7 257.1M2971.6 217.5L2973.7 223.3L2976.4 231.6L2980 241.2L2983.7 251.8L2988.2 262.3L2994.1 274.2L3001.4 287.9L3010.3 301.4L3017 313.2L3020.9 321.3M2971.6 217.5L2969.8 225L2967.2 235.6L2964.1 248L2960.5 261L2957.6 273L2955.5 285.3L2953.1 298.5L2951.1 311.3L2948.8 322.7L2946.2 330.3M2971.6 217.5L2973.4 221.3L2975.9 226.9L2978.6 233.2L2982.3 239.7L2986.7 245.7L2991.9 251.5L2996.8 257.6L3001.3 263.1L3006.2 268.1L3009.8 271.8M2971.6 217.5L2971.1 224.1L2970.4 233.4L2969.3 244.1L2968.3 255.5L2967.2 265.9L2967.1 276.8L2966.6 288.5L2966.7 299.8L2965.1 309.3L2964.2 316.2M2971.6 217.5L2971.9 225.2L2972.1 236L2972.1 248.8L2972.5 262L2973 274.4L2974 287.1L2974.4 300.8L2975.3 314.1L2975.8 325.4L2975.7 333.4M2971.6 217.5L2970.4 225.4L2968.9 236.6L2967.7 249.7L2966.1 263.3L2964 276.1L2961.3 289.3L2959.1 303.1L2957.2 316.9L2956.5 328.7L2955.4 337.1M2971.6 217.5L2971.9 222.1L2972.6 228.5L2973.2 236.2L2974.4 244.1L2975.6 251.3L2976.6 258.8L2978.1 266.6L2981.5 274.2L2983.9 280.6L2985.3 285.2M2971.6 217.5L2972.3 230.1L2973.1 248.1L2974.6 268.7L2976.5 289.7L2979.4 307.7L2982.7 324.1L2987.2 340.5L2990.7 355.4L2994.7 367.9L2998.9 377.2M2971.6 217.5L2971 220.6L2970.1 224.9L2969.5 230.1L2968.5 235.2L2968.4 239.8L2967.6 244.2L2967.4 248.4L2967.5 252.3L2967.7 256.1L2968 258.5" fill="none" stroke="#101010" stroke-width="3.4" stroke-linejoin="round" stroke-linecap="round"/>
<path d="M2971.6 217.5L2963.9 232.6L2953.2 253.8L2940.6 278.7L2927.3 304.6L2913.7 328.9L2899.4 351.8L2883.6 375L2867.5 398.3L2852.5 421.7M2971.6 217.5L2968.6 235.9L2964.6 261.9L2959.8 292.1L2955.1 323.3L2951 352.1L2946.8 378.9L2942.1 405.7L2937.7 432.4L2934.2 458.1M2971.6 217.5L2972.4 236.1L2973.3 262.5L2974.4 293.2L2976.2 324.2L2978.5 352.1L2981.5 377.3L2985.6 402.1L2989.5 426L2993.2 448.2L2996.4 468.1L2999.9 485.1M2971.6 217.5L2971.2 230L2971 247.9L2970.6 268.5L2969.8 288.8L2969.3 305.7L2968.3 319.3M2971.6 217.5L2970.1 229.7L2968.3 247.1L2966.4 267.3L2964.8 287.4" fill="none" stroke="#101010" stroke-width="4.9" stroke-linejoin="round" stroke-linecap="round"/>
<path d="M2963.7 217.5L2980.9 217.5L2988.8 305.7L2978.6 407.8L2969.3 482.1L2960 407.8L2952.1 315Z" fill="#111" opacity="0.8"/>
<path d="M2966 163.3L2965.6 182L2965.1 200.6L2964.6 219.2L2983.2 220.4L2985.2 201.9L2987.2 183.4L2989.2 164.9Z" fill="#0c0c0c"/>
<path d="M3409.8 231.4L3423.4 241.6L3442 256L3463.4 272.9L3486.1 290.2L3505.1 305.7L3521.7 320.7L3538 335.4L3550.4 349.9L3560.2 363.5L3572.5 374.7L3582.6 385.1L3597.5 394.3L3609.3 401.7L3612.9 407.5L3616.4 412.5M3409.8 231.4L3417.5 243.2L3428.4 260L3441.3 279.5L3452.6 298.9L3462 315.6L3469.7 329.5L3476.6 341.7L3482.1 353.9L3488.9 364.8L3492.7 377.1L3497.3 389.3L3498.8 403.2L3503.7 416.6L3513.3 427.5L3514.9 435.6M3409.8 231.4L3410.3 239.8L3410.7 251.3L3411.2 265.2L3412.2 280.4L3414.4 295.7L3416.5 312.4L3418.9 331.3L3421.4 350.1L3422.9 368.3L3424.2 383.2L3427.3 394.7L3430.3 402.4L3433.6 409.7L3434.2 417.3L3434.5 426.3L3433.7 436.9L3431.9 448L3434.1 458.7L3434.2 472L3436.8 483.9L3436 498.9L3432.1 515.5L3427.9 531.6L3426.8 547.1L3430.5 559.8L3430.6 568.3L3434.6 576.5L3434.5 583.8L3435.5 589L3434.8 592.8M3409.8 231.4L3408.1 239.9L3405.6 251.8L3402.8 265.6L3400.4 279.6L3398.2 292.3L3396.3 303.1L3393.7 313.6L3389.3 323.8L3387 333.6L3387.2 342.4L3388.8 350.6L3391.8 356.8L3393.8 363.9L3395.5 370.9L3393.9 379.7L3392.2 389.6L3393.1 402.4L3395.1 414.2L3392.6 427.1L3393.5 439.4L3391.9 451.4L3387 463.5L3384.2 473.1L3381 482.6L3383.4 490.2" fill="none" stroke="#b4b4b4" stroke-width="1.2" stroke-linejoin="round" stroke-linecap="round"/>
<path d="M3256.6 709L3251.6 703.2L3246.4 694.2L3242.5 684.1L3235.4 677L3229.7 671.4L3227.4 663.8L3229.7 658.3L3231.8 652.8L3236.5 650L3237.9 647.9L3244.7 646.7L3246.9 646.2L3251.6 647.3L3256.6 646.9M3315.5 490.7L3318.4 506.5L3327.2 523.3L3329.1 538.1L3334.9 552.3L3333.2 561M3397 573.3L3388.6 592.7L3386.4 608.1L3386.7 618.9L3385.5 627.9L3380.4 634.3L3375.3 641.2L3375 644.6M3534.4 656.2L3541.3 669.8L3542.9 682.1L3544.4 691M3364.7 390.5L3363.6 401.3L3364.6 411L3368.9 420.3L3371 428.5L3369.3 434.9M3318.8 460.9L3314.9 477.4L3313.4 496.4L3317.9 516.5L3316.6 532.1L3316 544.5M3497.7 354.3L3503.2 365.1L3507.2 374.5L3509.2 382.6L3516.3 388.2M3537.8 344L3544.7 350.8L3556.2 356.9L3560.4 360.9L3562.7 365M3308.3 507.4L3311.7 516L3317.8 524.3L3317.2 532.2L3320.2 539.7L3323.3 544.1M3296.1 453.8L3295 466.3L3294.6 478.4L3286.3 491.7L3285.9 502.4L3285.8 509.8M3402.4 398.1L3400.8 424.5L3395.6 446.2L3396.1 461.4" fill="none" stroke="#7a7a7a" stroke-width="0.9" stroke-linejoin="round" stroke-linecap="round"/>
<path d="M3274 518.6L3271.5 537.4L3272.3 557.3L3277.5 576.9L3284.4 597.2L3289.1 615.5L3292.6 630.2L3294.4 643.5L3295.1 653.2L3295.4 661.4L3295.7 669.2L3296.7 677.6L3292.6 685.6L3289.2 695.4L3277.2 703.5L3269.3 710.2L3259.4 712.5L3256.6 709M3356 357.8L3347.2 380.5L3338.8 402.8L3334.8 421.9L3330.7 437.9L3325.8 452.1L3321.3 465.7L3315.7 478.5L3315.5 490.7M3399.6 424.8L3398.4 444.8L3399.5 461.7L3400 474.8L3402.7 486.9L3409.1 500L3410.4 514.3L3408.7 532.9L3403.5 552.7L3397 573.3M3516.4 619.5L3522.2 630.6L3528.3 643.2L3534.4 656.2M3319.3 649.2L3330.1 645.6L3342.2 641.9L3353.4 638.6L3365.6 633.8L3375 630.7M3291.4 445L3297.7 445.4L3302.6 446.2L3307.2 445.9L3312.6 447.1L3319.3 447.3M3383.6 305.1L3376.8 317L3373.8 328.7L3370.6 340.5L3369.3 351.2L3369.8 360.7L3368.5 371.6L3366.9 381.1L3364.7 390.5M3355.2 342.6L3350.3 361.1L3346.2 379.5L3342.5 396.2L3337.3 410.1L3334.6 422.6L3327.8 434.5L3323.6 447.5L3318.8 460.9M3464.5 308.4L3470.9 317.9L3481.1 327.7L3487.1 336.4L3493.3 345.4L3497.7 354.3M3492.3 297L3504.7 308.5L3514.1 318.4L3522.2 328.6L3530.1 336.5L3537.8 344M3350.3 376.7L3343.4 404.5L3339.4 429.9L3333.5 450.4L3327.8 466.9L3317.9 478.9L3311.9 488.7L3308 498.3L3308.3 507.4M3348.7 332.9L3340.9 353.7L3335.6 373.7L3329.5 391.3L3320.6 405.4L3310.8 419.1L3303.8 430.1L3300.9 441.6L3296.1 453.8M3405.9 322.3L3406 347L3404.5 372.2L3402.4 398.1" fill="none" stroke="#7a7a7a" stroke-width="1.5" stroke-linejoin="round" stroke-linecap="round"/>
<path d="M3409.8 231.4L3403.8 241.2L3395.5 254.9L3385.9 271.1L3375.6 288.5L3366 305.7L3355.9 323.9L3346.1 343.6L3335.9 363.8L3327.1 382.7L3320.1 398.6L3313.7 410L3306.2 418L3300.2 425.5L3295.2 433.2L3290.6 444.7L3286.9 460.3L3282.1 478.9L3279 498.5L3274 518.6M3409.8 231.4L3405 242.4L3398.8 257.8L3391.1 275.8L3383.7 295.3L3375.1 314.8L3365.6 335.2L3356 357.8M3409.8 231.4L3408.9 244.4L3407.7 262.5L3405.7 283.8L3404 306.7L3402.2 329.1L3400.8 351.8L3400.1 376.3L3400.7 401L3399.6 424.8M3488.7 584.3L3494 590.3L3501.4 598.9L3509.4 608.8L3516.4 619.5M3409.8 231.4L3407.3 238.3L3403.6 247.8L3400 259.2L3396.1 270.9L3392.9 282.4L3388 293.9L3383.6 305.1M3409.8 231.4L3403.4 241.3L3394 255.2L3383.9 271.5L3374.4 289.2L3366.6 306.2L3361.6 323.7L3355.2 342.6M3409.8 231.4L3416.5 240.8L3426.1 254.1L3437.9 269.3L3448.2 284.8L3456.8 297.5L3464.5 308.4M3409.8 231.4L3419.7 239L3433.5 249.8L3449.2 262.1L3464.7 274.9L3479.6 286.8L3492.3 297M3409.8 231.4L3403.7 243.7L3395.1 260.9L3385.4 281.2L3375 303.6L3365 325.9L3356.5 349.7L3350.3 376.7M3409.8 231.4L3403.5 239.6L3394.8 250.8L3384.8 264.4L3374.1 279.5L3363.7 295.4L3355 313L3348.7 332.9M3409.8 231.4L3409.3 247.1L3408.6 269.3L3406.7 295.5L3405.9 322.3" fill="none" stroke="#7a7a7a" stroke-width="2.2" stroke-linejoin="round" stroke-linecap="round"/>
<path d="M3352.5 538L3353.1 551.1L3353.8 566.4L3358 581.1L3361.7 595.3L3366.6 608L3371.4 616.7L3375 624.1L3372.4 631.5L3375.3 636.6L3379.6 640M3390.7 502.6L3387.9 519.7L3384.5 538.1L3380.5 556.7L3373.7 578.3L3369.9 599.7L3367 617.6L3365.7 630.7M3418 683.6L3416.3 695.5L3414.8 707.3L3416.1 716.4L3421.9 726.1L3424.1 736.1L3426.3 746.5L3428.5 759.1L3433.3 770.7L3439.2 783.6L3446.2 794.1L3449.3 802.5M3465.8 576.2L3462.3 595.9L3460.6 615.5L3454.7 630.1L3453.1 642.5L3449.7 651.6L3448.2 658.5L3444.6 663.3L3440 667.8M3500.8 311.6L3507.1 316.9L3515 321.1L3520.6 326.1L3523.5 328.9M3373.3 510.5L3371.1 531.4L3368 550.7L3364.3 567.8L3359.5 582.4L3361.2 593.6M3400 454.1L3397.9 467.1L3389.9 478.2L3389.2 489.5L3387.6 498.6L3387.1 508.9L3388.7 515.6L3382.4 521.3M3406.3 325.4L3404.9 336.1L3404.2 346.2L3409 352.9M3421.8 503.6L3424.7 520.1L3432.7 535L3435.3 549L3437.3 561.2L3440.2 570.5M3385.3 455.9L3382.8 473.1L3379 487.2L3380.8 498.4L3381.5 509.8L3383.8 518.6L3387.9 527.7L3382.2 533M3386.9 432.3L3384.9 447.6L3381 461.4L3383.4 470L3385.2 478L3390.9 483.8L3389.8 488.2L3388.1 491.7M3267.5 561.2L3265.8 568.5L3264.9 574.5L3262.5 578.9L3260.7 580.5L3266.2 584" fill="none" stroke="#3c3c3c" stroke-width="1.2" stroke-linejoin="round" stroke-linecap="round"/>
<path d="M3355.8 396.7L3357.9 409.4L3360.1 421.6L3364.8 433.9L3366.3 446.4L3368.9 458L3370 470.5L3368.4 482.3L3367.3 493.2L3363.1 503.6L3359.7 514.6L3356.3 526.1L3352.5 538M3379.8 385.9L3379.8 398.6L3381.8 410.4L3386.6 420.5L3388.7 430.7L3392.7 441.3L3391.6 454.1L3390.9 469.4L3391.2 484.8L3390.7 502.6M3432.9 481.9L3434.3 492L3436.8 501.7L3438.7 512.3L3441 524.3L3440.8 538L3440.2 554.7L3436.6 573.5L3434.2 593.6L3431.1 613.4L3429.3 631L3428.1 645.9L3427.5 658.9L3423.5 671.7L3418 683.6M3433.2 413.4L3438.4 427.3L3444.4 440.7L3450.2 454.6L3455.7 468.3L3457.5 481.8L3459.4 495.4L3459.2 508.5L3461.7 522.8L3463.5 537.5L3465.7 555.9L3465.8 576.2M3466.5 280.7L3475 287L3483.8 293.9L3489.3 299.9L3494.7 306.2L3500.8 311.6M3382.7 349L3378.8 362.7L3374.8 376.6L3372.2 394.5L3368.8 415.3L3368.7 439.8L3369.2 464.1L3372.8 489.1L3373.3 510.5M3397.6 357.5L3397 370.1L3397.7 380.7L3399.8 388.9L3399.8 396.9L3400.2 405.1L3403.3 415L3402.9 427.6L3403.1 441.1L3400 454.1M3407.7 286.6L3408.4 301L3407.4 313.2L3406.3 325.4M3419.1 373.7L3425.3 384.8L3429.4 396.5L3433.4 410.7L3432.3 427.6L3427.4 447.3L3422.5 466.9L3419.5 485.7L3421.8 503.6M3382.2 353.2L3380.6 364.9L3381.7 374.6L3381 382.7L3383.2 389.6L3385.2 397.8L3390.4 408.3L3389.5 422.9L3390.6 438.2L3385.3 455.9M3384.7 338.4L3383 349.5L3383.2 357.7L3382.5 364.9L3382.5 370.5L3385.7 378.1L3388.7 387.9L3389.4 401L3390.7 416.8L3386.9 432.3M3326.8 407.9L3320.9 443.1L3315.9 475.7L3307.8 501.6L3299.1 519.9L3286.2 533.8L3276.7 544.4L3268.1 552.9L3267.5 561.2" fill="none" stroke="#3c3c3c" stroke-width="1.9" stroke-linejoin="round" stroke-linecap="round"/>
<path d="M3409.8 231.4L3406.3 243.4L3401.6 260.6L3396.1 280.3L3390.2 299.3L3384 315L3378.1 326.4L3371.4 335.6L3365.5 343.6L3360.3 351.8L3357.6 361.3L3355.3 372.8L3355.4 384.6L3355.8 396.7M3409.8 231.4L3407.5 245.1L3404.1 264.8L3400.5 287.2L3396.8 309.5L3394.3 329L3390.4 345L3386.8 359.5L3382.5 373L3379.8 385.9M3409.8 231.4L3410.1 244.5L3410.6 263L3411.2 284.6L3411.8 307.2L3412.1 328.9L3412.4 350.6L3411.9 373.9L3410.4 396.8L3410.4 418L3411.1 435.7L3414.8 448.9L3420.5 458.1L3425 465.6L3430.1 473.2L3432.9 481.9M3409.8 231.4L3411.5 242.8L3413.9 258.9L3416.2 277.5L3418.9 297L3421.3 314.9L3422.8 331.9L3425.4 349.1L3426.8 366.2L3428.4 382.9L3430.1 398.7L3433.2 413.4M3409.8 231.4L3416.8 237.3L3426.6 245.5L3437.3 255.1L3447.8 264.9L3457.4 273.3L3466.5 280.7M3409.8 231.4L3407.3 243.8L3403.6 261.3L3398.9 281.8L3393.7 302.3L3389.1 320.4L3385.9 335.3L3382.7 349M3409.8 231.4L3408.7 240.9L3407.4 254.2L3405.7 269.6L3404.5 285.9L3402.3 300.8L3400.2 315.1L3398.2 329.4L3396.8 344L3397.6 357.5M3409.8 231.4L3408.8 241L3408 254.8L3406.9 270.8L3407.7 286.6M3409.8 231.4L3410 247.8L3410.4 271.5L3411.2 298.3L3412.3 324.5L3414.1 346.2L3416.3 361.7L3419.1 373.7M3409.8 231.4L3407.7 240.6L3404.6 253.6L3401.7 268.8L3397.9 284.5L3394 298.7L3390 312.3L3387 326.7L3384.6 340.4L3382.2 353.2M3409.8 231.4L3407.7 238.9L3404.9 249.4L3402.2 261.9L3398.1 275L3394.2 287.4L3391.4 299.9L3387.6 313L3385.6 325.9L3384.7 338.4M3409.8 231.4L3400.2 245.7L3386.5 265.6L3370.6 289.4L3355.1 315.6L3342.3 342.6L3332.9 372.7L3326.8 407.9" fill="none" stroke="#3c3c3c" stroke-width="2.8" stroke-linejoin="round" stroke-linecap="round"/>
<path d="M3559.8 576.1L3566.2 593.1L3569.1 607.2L3572.3 617.6L3573 625.4L3575.9 630.8L3575.2 634.7L3574.6 637.6M3394.7 394.3L3397.3 409.6L3397.9 424.5L3395.7 436.7L3398.2 445M3414.3 346.1L3416.1 367.1L3414 385.3L3416.8 398.6M3382.6 431.8L3381 445.3L3375.2 460.2L3378.6 471.7L3377.5 482.5L3375.1 490.6M3510.2 319.5L3519 326L3526.9 331L3533.5 335.2L3533.1 337.9M3446 402.3L3443.9 415.7L3443.8 430.9L3445.9 445.2L3449.7 459.9L3444.4 468.3M3406.5 439.5L3405.3 448.7L3406.2 456.2L3408.4 465.2L3406.9 472.5L3405.4 481L3403.6 488.1L3408.7 492.8M3438 467.5L3435.8 482L3436.4 494.9L3436.6 505.2L3436.1 513.6L3435.8 520.1L3434.7 523.9L3431.2 528.5L3430.6 531.7" fill="none" stroke="#1c1c1c" stroke-width="1.6" stroke-linejoin="round" stroke-linecap="round"/>
<path d="M3486.1 375L3496.7 398.4L3505.5 421.8L3512.9 445.5L3521 469.4L3529.1 493L3537.4 514.6L3545.8 535.9L3553.4 556.5L3559.8 576.1M3397.2 320.6L3395.6 335.9L3393.8 351.1L3393 365.7L3393.7 380.1L3394.7 394.3M3411.2 288.6L3412.4 305.8L3413.7 324.4L3414.3 346.1M3390.7 315.6L3387.4 325.5L3382.3 335.4L3380.5 348L3380.5 362.7L3384.1 380L3385.5 398.4L3383.2 415.4L3382.6 431.8M3474.6 284.6L3482.6 292.7L3490.2 299.7L3495.9 307.9L3501.1 313.5L3510.2 319.5M3428.5 323.3L3430.8 332.8L3431.4 341.8L3434.6 351.7L3440.4 361.5L3443.2 370.7L3444.6 380.1L3445.5 390.5L3446 402.3M3410.2 346.7L3409.9 355.7L3411.7 366.8L3413.7 378.4L3415.1 390.5L3416.6 401.5L3414.4 412.5L3410.9 422.6L3408 431.6L3406.5 439.5M3426.3 361.1L3430.8 369.8L3433.5 377.3L3433.9 385.1L3434.4 394.2L3434.2 402.6L3437.7 412.5L3438.8 421.5L3441.9 431.9L3441.5 442.4L3438.8 454.3L3438 467.5" fill="none" stroke="#1c1c1c" stroke-width="2.5" stroke-linejoin="round" stroke-linecap="round"/>
<path d="M3409.8 231.4L3414.3 238.1L3420.6 247L3428.2 258.1L3436.4 271.5L3444.5 287.1L3453.8 305.9L3463.5 327.5L3475.2 351.1L3486.1 375M3409.8 231.4L3408.1 241.5L3405.5 255.7L3402.7 272.4L3400.3 289.7L3398.4 305.7L3397.2 320.6M3409.8 231.4L3410.2 241.3L3410.1 254.9L3410.1 271.2L3411.2 288.6M3409.8 231.4L3408 240.3L3405 252.8L3401.4 267.3L3398.3 282L3396.3 295.3L3393.9 305.9L3390.7 315.6M3409.8 231.4L3417.6 237.7L3427.8 246.4L3440 256.9L3452.1 267.2L3464.7 276.2L3474.6 284.6M3409.8 231.4L3411.5 241.3L3413.4 255.5L3416.3 271.9L3419.5 287.8L3422.9 301.7L3426.4 313.1L3428.5 323.3M3409.8 231.4L3409.5 242.6L3409 258.6L3408.4 276.9L3407.9 294.9L3408.3 309.7L3408.7 320.7L3410.8 330.3L3410.5 338.5L3410.2 346.7M3409.8 231.4L3410.6 238.9L3411.5 249.3L3412.7 261.5L3414.6 274.5L3416.4 287.2L3417.6 299.8L3418.7 313.1L3419 327.1L3420.6 339.9L3422.1 351.7L3426.3 361.1" fill="none" stroke="#1c1c1c" stroke-width="3.6" stroke-linejoin="round" stroke-linecap="round"/>
<path d="M3263.8 491.2L3256.2 512.7L3250.4 536.6L3247.7 559.5L3243.4 579.7L3240.4 593.5M3478.5 491.5L3480.7 511.6L3483.2 533.1L3483.6 554L3485.5 571.3L3488.7 584.3M3531.9 517.5L3534.3 521.6L3535.4 527.7L3539.3 537.9L3543 553.5L3546.1 575.1L3547.6 596.8L3548.7 616.7L3549.1 630.7" fill="none" stroke="#101010" stroke-width="2.1" stroke-linejoin="round" stroke-linecap="round"/>
<path d="M3333.6 335.1L3321.4 356.5L3310.4 378.2L3299.7 398.4L3291.4 417.8L3284 436L3278 453.8L3270.2 472.4L3263.8 491.2M3440.2 341.4L3444.8 360.5L3449.3 379.5L3453.8 398.4L3457.7 417.2L3463.4 435.8L3468.4 454.1L3474.2 473L3478.5 491.5M3481.5 419L3485.8 440L3488.8 460.2L3492.3 477.6L3495.6 491.3L3500.1 499.7L3506.2 503.8L3512.7 505.7L3518.8 507L3524.9 510L3529.1 513.9L3531.9 517.5M3409.8 231.4L3409.6 234.9L3409.4 239.7L3409.3 245.4L3409.5 251.6L3409.4 257.5L3409 263.9L3408.8 270.9L3407.4 278.2L3408 284.3L3408.1 288.5M3409.8 231.4L3413.5 234.6L3418.7 239.1L3424.8 244.1L3431.1 249.4L3436.6 253.9L3441.6 257.7L3445.7 261.8L3448.6 265.8L3451.6 268.9L3455 271.2M3409.8 231.4L3406.1 235.5L3400.8 241.1L3394.5 248L3388.1 255.7L3381.5 263.8L3376.4 273.5L3370.6 285.1L3365.1 297L3359.7 307.7L3355.5 314.7M3409.8 231.4L3409.8 234.5L3410 238.7L3410.4 243.8L3411 249.2L3411.3 254.6L3411.2 260.5L3411.2 266.9L3410.6 273.7L3409.7 279.1L3411 283.3M3409.8 231.4L3408.3 236.7L3406.3 244.4L3403.3 253.1L3400.5 261.4L3398.7 268.5L3396.8 273.9L3393.7 279L3390.6 283L3387.7 286.7L3386.3 289M3409.8 231.4L3410.8 235.2L3412 240.2L3413.5 246.4L3414.7 253L3416.4 259.4L3418.9 266.6L3420.9 274.5L3423.1 282.6L3425.4 289.8L3425.8 294.6M3409.8 231.4L3407.6 234.4L3404.2 238.6L3399.9 243.5L3395.6 249.3L3391.4 255.3L3387.2 262.4L3382.3 271.2L3377.1 279.8L3372.6 287.5L3368.7 292.8M3409.8 231.4L3411.8 233.1L3414.4 235.7L3417.5 238.6L3420.5 241.4L3424.2 243.9L3427 246.2L3430.6 248.3L3432.9 250.7L3434.5 252.3L3436.5 253.6M3409.8 231.4L3411.8 234.6L3414.3 238.7L3416.9 244L3420.5 250L3425.1 257.5L3430.2 267.1L3436.5 278.8L3441.9 291.3L3446 302.2L3450.4 309.5M3409.8 231.4L3413.3 234.5L3418.3 238.8L3424.2 243.8L3430 248.9L3435.6 253.3L3440.8 257.3L3445.4 261.1L3448.6 264.7L3452.9 268L3456.1 270.2M3409.8 231.4L3408.1 233.5L3405.9 236.4L3403.5 239.8L3400.1 243.8L3397.2 247.9L3393.1 252.8L3389.7 258.9L3387.4 265L3385.3 270.3L3381.9 273.8M3409.8 231.4L3407.8 233.6L3405 236.5L3401.9 240.1L3399 244L3395.8 248.4L3392.4 253.4L3388.8 259.5L3385.4 265.8L3383.8 271L3382 275" fill="none" stroke="#101010" stroke-width="3.4" stroke-linejoin="round" stroke-linecap="round"/>
<path d="M3409.8 231.4L3402.6 239.7L3392.2 250.9L3380.2 264.6L3367.9 279.9L3356.7 296.5L3345.7 314.6L3333.6 335.1M3409.8 231.4L3412.7 241.2L3416.5 254.9L3421.2 271.1L3425.9 288.5L3430.6 305.6L3435 323.2L3440.2 341.4M3409.8 231.4L3413.4 239.7L3418.4 251L3424.2 264.6L3430.9 280L3437.6 296.5L3445.5 314.6L3454.1 335L3462.6 356.6L3470.1 378.2L3476.6 398.5L3481.5 419" fill="none" stroke="#101010" stroke-width="4.9" stroke-linejoin="round" stroke-linecap="round"/>
<path d="M3405.2 231.4L3415.8 231.4L3420.5 273.2L3412.1 319.6L3405.6 370.7L3399.1 319.6L3396.8 273.2Z" fill="#111" opacity="0.8"/>
<path d="M3391 179.4L3398 198.2L3405 216.9L3412 235.6L3421.5 231.8L3413.7 213.4L3405.8 195L3397.9 176.7Z" fill="#0c0c0c"/>
<path d="M3420.5 184.8L3418 198.7L3415.5 212.6L3413.1 226.5L3415.8 227L3418 213.1L3420.2 199.1L3422.3 185.1Z" fill="#0c0c0c"/>
<text class="t" x="1746" y="76">B</text>
<text x="1929" y="103.3" text-anchor="middle">39#</text>
<text x="2347.6" y="103.3" text-anchor="middle">21#</text>
<text x="2972.5" y="104" text-anchor="middle">39#</text>
<text x="3401" y="104" text-anchor="middle">21#</text>
<text x="2146.5" y="874" text-anchor="middle">+P</text>
<text x="3208" y="866" text-anchor="middle">−P</text>
<text x="1818.5" y="860.6" text-anchor="middle">5 cm</text>
<path class="ax" stroke-width="4.6" d="M1735.3 874.2H1890.2"/>
<text x="2569" y="857.9" text-anchor="middle">5 cm</text>
<path class="ax" stroke-width="4.6" d="M2493.5 874.2H2648.8"/>
<text x="2822" y="856.1" text-anchor="middle">5 cm</text>
<path class="ax" stroke-width="4.6" d="M2747.6 874.2H2901.5"/>
<text x="3575.2" y="847.9" text-anchor="middle">5 cm</text>
<path class="ax" stroke-width="4.6" d="M3501.6 874.2H3655.6"/>
</g>
<g id="chartC">
<rect class="bd" x="411.25" y="1252.25" width="69" height="387.25" stroke-width="4.5"/>
<rect class="bl" x="523.75" y="1295.25" width="69.5" height="344.25" stroke-width="4.5"/>
<rect class="bd" x="636.25" y="1292.25" width="69.5" height="347.25" stroke-width="4.5"/>
<rect class="bl" x="749.75" y="1320.25" width="69.5" height="319.25" stroke-width="4.5"/>
<path class="ek" stroke-width="4.5" d="M445.25 1251V1227M431.85 1227H458.65"/>
<path class="ek" stroke-width="4.5" d="M558.4 1294V1269M545 1269H571.8"/>
<path class="ek" stroke-width="4.5" d="M671 1291V1261M657.6 1261H684.4"/>
<path class="ek" stroke-width="4.5" d="M784.5 1319V1285.5M771.1 1285.5H797.9"/>
<path class="ax" stroke-width="5.1" d="M390 1060.5V1854.4M387.5 1640.1H844.1M615.5 1639.5V1854.4M841.6 1639.5V1854.4M390 1063H410M390 1255.5H410M390 1447.5H410"/>
<text x="377.5" y="1084.75" text-anchor="end">600</text>
<text x="377.5" y="1277.25" text-anchor="end">400</text>
<text x="377.5" y="1469.25" text-anchor="end">200</text>
<text x="377.5" y="1661.25" text-anchor="end">0</text>
<text x="447.9" y="1221" text-anchor="middle">a</text>
<text x="560.6" y="1257.5" text-anchor="middle">a</text>
<text x="672.9" y="1247" text-anchor="middle">a</text>
<text x="787.75" y="1271" text-anchor="middle">a</text>
<text x="447.5" y="1719.8" text-anchor="middle">39#</text>
<text x="562.2" y="1719.8" text-anchor="middle">21#</text>
<text x="669.7" y="1719.8" text-anchor="middle">39#</text>
<text x="785" y="1719.8" text-anchor="middle">21#</text>
<text x="499.25" y="1839.4" text-anchor="middle">+P</text>
<text x="734.4" y="1839.4" text-anchor="middle">−P</text>
<text class="t" x="408" y="1962.5" textLength="417.4" lengthAdjust="spacing">处理 Treatments</text>
<text transform="translate(152 1496) rotate(-90)" textLength="291" lengthAdjust="spacing" xml:space="preserve">总根长/cm</text>
<text transform="translate(222 1576) rotate(-90)" textLength="450.7" lengthAdjust="spacing" xml:space="preserve">Total root length</text>
<text class="t" x="1.5" y="1368.5">C</text>
</g>
<g id="chartD">
<rect class="bd" x="1401.75" y="1199.75" width="69" height="439.25" stroke-width="4.5"/>
<rect class="bl" x="1511.75" y="1271" width="69" height="368" stroke-width="4.5"/>
<rect class="bd" x="1622.25" y="1204.75" width="69.25" height="434.25" stroke-width="4.5"/>
<rect class="bl" x="1731.75" y="1313.5" width="69" height="325.5" stroke-width="4.5"/>
<path class="ek" stroke-width="4.5" d="M1436.25 1198.5V1183M1423.5 1183H1449"/>
<path class="ek" stroke-width="4.5" d="M1546.25 1269.75V1232M1533.5 1232H1559"/>
<path class="ek" stroke-width="4.5" d="M1656.75 1203.5V1165.5M1644 1165.5H1669.5"/>
<path class="ek" stroke-width="4.5" d="M1766.25 1312.25V1285M1753.5 1285H1779"/>
<path class="ax" stroke-width="5.1" d="M1381.4 1059V1853M1378.9 1639.6H1835M1606.5 1639V1853M1832.5 1639V1853M1381.4 1061.5H1401.4M1381.4 1177H1401.4M1381.4 1293H1401.4M1381.4 1408.25H1401.4M1381.4 1523.5H1401.4"/>
<text x="1370.4" y="1083.25" text-anchor="end">100</text>
<text x="1370.4" y="1198.75" text-anchor="end">80</text>
<text x="1370.4" y="1314.75" text-anchor="end">60</text>
<text x="1370.4" y="1430" text-anchor="end">40</text>
<text x="1370.4" y="1545.25" text-anchor="end">20</text>
<text x="1370.4" y="1660.75" text-anchor="end">0</text>
<text x="1437.25" y="1173.75" text-anchor="middle">a</text>
<text x="1545.5" y="1222" text-anchor="middle">b</text>
<text x="1658" y="1154.25" text-anchor="middle">a</text>
<text x="1766.25" y="1273.75" text-anchor="middle">b</text>
<text x="1437.5" y="1720" text-anchor="middle">39#</text>
<text x="1551" y="1720" text-anchor="middle">21#</text>
<text x="1660" y="1720" text-anchor="middle">39#</text>
<text x="1774" y="1720" text-anchor="middle">21#</text>
<text x="1489" y="1840" text-anchor="middle">+P</text>
<text x="1725.5" y="1840" text-anchor="middle">−P</text>
<text class="t" x="1405.5" y="1962.5" textLength="417.7" lengthAdjust="spacing">处理 Treatments</text>
<text transform="translate(1170.5 1617) rotate(-90)" textLength="542.5" lengthAdjust="spacing" xml:space="preserve">根系总表面积/(cm<tspan font-size="36" dy="-24">2</tspan><tspan dy="24">)</tspan></text>
<text transform="translate(1240.8 1590.5) rotate(-90)" textLength="478" lengthAdjust="spacing" xml:space="preserve">Total root surface</text>
<text class="t" x="1022.5" y="1369">D</text>
</g>
<g id="chartE">
<rect class="bd" x="2409.75" y="1193.25" width="68" height="449.75" stroke-width="4.5"/>
<rect class="bl" x="2518.25" y="1288.75" width="67" height="354.25" stroke-width="4.5"/>
<rect class="bd" x="2625.75" y="1152.25" width="67" height="490.75" stroke-width="4.5"/>
<rect class="bl" x="2733.25" y="1343.75" width="68" height="299.25" stroke-width="4.5"/>
<path class="ek" stroke-width="4.5" d="M2443.5 1192V1167.5M2431.5 1167.5H2455.5"/>
<path class="ek" stroke-width="4.5" d="M2551.5 1287.5V1238.5M2539.5 1238.5H2563.5"/>
<path class="ek" stroke-width="4.5" d="M2660 1151V1101M2648 1101H2672"/>
<path class="ek" stroke-width="4.5" d="M2766.5 1342.5V1321M2754.5 1321H2778.5"/>
<path class="ax" stroke-width="5.1" d="M2390 1048.5V1857M2387.5 1643.6H2846.5M2615 1643V1857M2844 1643V1857M2390 1051H2408M2390 1248H2408M2390 1446H2408"/>
<text x="2377" y="1069.5" text-anchor="end">1.5</text>
<text x="2377" y="1266.5" text-anchor="end">1.0</text>
<text x="2377" y="1464.5" text-anchor="end">0.5</text>
<text x="2377" y="1661.5" text-anchor="end">0.0</text>
<text x="2446" y="1155" text-anchor="middle">a</text>
<text x="2552.5" y="1224" text-anchor="middle">b</text>
<text x="2661" y="1087.5" text-anchor="middle">a</text>
<text x="2767.5" y="1312.5" text-anchor="middle">b</text>
<text x="2449.5" y="1720.5" text-anchor="middle">39#</text>
<text x="2558.75" y="1720.5" text-anchor="middle">21#</text>
<text x="2671.25" y="1720.5" text-anchor="middle">39#</text>
<text x="2786.25" y="1720.5" text-anchor="middle">21#</text>
<text x="2497.5" y="1842.5" text-anchor="middle">+P</text>
<text x="2732.5" y="1842.5" text-anchor="middle">−P</text>
<text class="t" x="2415.5" y="1962.5" textLength="417" lengthAdjust="spacing">处理 Treatments</text>
<text transform="translate(2166.5 1589) rotate(-90)" textLength="485" lengthAdjust="spacing" xml:space="preserve">根系总体积/(cm<tspan font-size="36" dy="-24">3</tspan><tspan dy="24">)</tspan></text>
<text transform="translate(2235 1589) rotate(-90)" textLength="483" lengthAdjust="spacing" xml:space="preserve">Total root volume</text>
<text class="t" x="2030.5" y="1368.4">E</text>
</g>
<g id="chartF">
<rect class="bd" x="3397.75" y="1119.75" width="74.5" height="518.25" stroke-width="4.5"/>
<rect class="bl" x="3517.75" y="1262.25" width="73.5" height="375.75" stroke-width="4.5"/>
<rect class="bd" x="3637.75" y="1385.55" width="75.5" height="252.45" stroke-width="4.5"/>
<rect class="bl" x="3757.75" y="1461.25" width="75.5" height="176.75" stroke-width="4.5"/>
<path class="ek" stroke-width="4.5" d="M3435 1118.5V1083.5M3422.7 1083.5H3447.3"/>
<path class="ek" stroke-width="4.5" d="M3555.5 1261V1201.8M3543.2 1201.8H3567.8"/>
<path class="ek" stroke-width="4.5" d="M3675.5 1384.3V1376.8M3663.2 1376.8H3687.8"/>
<path class="ek" stroke-width="4.5" d="M3795.5 1460V1430.5M3783.2 1430.5H3807.8"/>
<path class="ax" stroke-width="5.1" d="M3373.5 1035V1853M3371 1638.6H3857M3612 1638V1853M3854.5 1638V1853M3373.5 1037.5H3392.5M3373.5 1237H3392.5M3373.5 1437.5H3392.5"/>
<text x="3364.5" y="1061.5" text-anchor="end" textLength="130">1 800</text>
<text x="3364.5" y="1261" text-anchor="end" textLength="130">1 200</text>
<text x="3364.5" y="1461.5" text-anchor="end">600</text>
<text x="3364.5" y="1662" text-anchor="end">0</text>
<text x="3437" y="1070" text-anchor="middle">a</text>
<text x="3558.5" y="1187.5" text-anchor="middle">b</text>
<text x="3675.5" y="1365" text-anchor="middle">c</text>
<text x="3795.5" y="1421.5" text-anchor="middle">d</text>
<text x="3434.5" y="1720" text-anchor="middle">39#</text>
<text x="3550" y="1720" text-anchor="middle">21#</text>
<text x="3679.5" y="1720" text-anchor="middle">39#</text>
<text x="3795.25" y="1720" text-anchor="middle">21#</text>
<text x="3502.5" y="1841" text-anchor="middle">+P</text>
<text x="3742" y="1841" text-anchor="middle">−P</text>
<text class="t" x="3428" y="1962.5" textLength="417" lengthAdjust="spacing">处理 Treatments</text>
<text transform="translate(3113.5 1433) rotate(-90)" textLength="190.5" lengthAdjust="spacing" xml:space="preserve">根尖数</text>
<text transform="translate(3181.5 1602.7) rotate(-90)" textLength="527.7" lengthAdjust="spacing" xml:space="preserve">Number of root tips</text>
<text class="t" x="2962" y="1368.5">F</text>
</g>
<g id="chartG">
<rect class="bd" x="406.35" y="2185.95" width="80.6" height="476.55" stroke-width="5.1"/>
<rect class="bl" x="535.95" y="2247.15" width="81.5" height="415.35" stroke-width="5.1"/>
<rect class="bd" x="666.55" y="2387.55" width="80.9" height="274.95" stroke-width="5.1"/>
<rect class="bl" x="796.55" y="2407.55" width="80.9" height="254.95" stroke-width="5.1"/>
<path class="eg" stroke-width="5" d="M446.5 2186.4V2154M433 2154H460"/>
<path class="eg" stroke-width="5" d="M576.5 2247.6V2235M563 2235H590"/>
<path class="eg" stroke-width="5" d="M706.5 2388V2378.5M693 2378.5H720"/>
<path class="eg" stroke-width="5" d="M837.5 2408V2397.5M824 2397.5H851"/>
<path class="ax" stroke-width="5.6" d="M382.5 2038.5V2854.5M380 2663.1H905M641.5 2662.5V2854.5M902.5 2662.5V2854.5M382.5 2041H405M382.5 2196.5H405M382.5 2352H405M382.5 2507.5H405"/>
<text x="373.5" y="2065.8" text-anchor="end">80</text>
<text x="373.5" y="2221.3" text-anchor="end">60</text>
<text x="373.5" y="2376.8" text-anchor="end">40</text>
<text x="373.5" y="2532.3" text-anchor="end">20</text>
<text x="373.5" y="2687.3" text-anchor="end">0</text>
<text x="451.5" y="2145" text-anchor="middle">a</text>
<text x="579" y="2223.5" text-anchor="middle">b</text>
<text x="708.5" y="2367.5" text-anchor="middle">c</text>
<text x="843.5" y="2383.5" text-anchor="middle">d</text>
<text x="448.75" y="2726" text-anchor="middle">39#</text>
<text x="578.75" y="2726" text-anchor="middle">21#</text>
<text x="708.25" y="2726" text-anchor="middle">39#</text>
<text x="838.75" y="2726" text-anchor="middle">21#</text>
<text x="508.75" y="2822.5" text-anchor="middle">+P</text>
<text x="778.75" y="2822.5" text-anchor="middle">−P</text>
<text class="t" x="443.5" y="2954" textLength="418.5" lengthAdjust="spacing">处理 Treatments</text>
<text transform="translate(249 2668.6) rotate(-90)" textLength="138.1" lengthAdjust="spacing" xml:space="preserve">株高/</text>
<text transform="translate(249 2512) rotate(-90)" textLength="74.5" lengthAdjust="spacing" xml:space="preserve">cm</text>
<text transform="translate(249 2404) rotate(-90)" textLength="324.6" lengthAdjust="spacing" xml:space="preserve">Plant height</text>
<text class="t" x="104" y="2385.5">G</text>
</g>
<g id="chartH">
<rect class="bd" x="1419.05" y="2185.95" width="81.9" height="473.05" stroke-width="5.1"/>
<rect class="bl" x="1550.55" y="2374.05" width="82.4" height="284.95" stroke-width="5.1"/>
<rect class="bd" x="1683.05" y="2188.55" width="82.2" height="470.45" stroke-width="5.1"/>
<rect class="bl" x="1814.55" y="2332.75" width="81.9" height="326.25" stroke-width="5.1"/>
<path class="eg" stroke-width="5" d="M1460 2186.4V2134M1447.25 2134H1472.75"/>
<path class="eg" stroke-width="5" d="M1592.5 2374.5V2320M1579.75 2320H1605.25"/>
<path class="eg" stroke-width="5" d="M1724 2189V2143.5M1711.25 2143.5H1736.75"/>
<path class="eg" stroke-width="5" d="M1856.5 2333.2V2276.5M1843.75 2276.5H1869.25"/>
<path class="ax" stroke-width="5.6" d="M1395 2040V2854.5M1392.5 2659.6H1923.5M1657.5 2659V2854.5M1921 2659V2854.5M1395 2042.5H1414M1395 2197.5H1414M1395 2351.5H1414M1395 2506H1414"/>
<text x="1381.4" y="2063.7" text-anchor="end">0.20</text>
<text x="1381.4" y="2218.7" text-anchor="end">0.15</text>
<text x="1381.4" y="2372.7" text-anchor="end">0.10</text>
<text x="1381.4" y="2527.2" text-anchor="end">0.05</text>
<text x="1381.4" y="2680.2" text-anchor="end">0.00</text>
<text x="1460.5" y="2121.6" text-anchor="middle">a</text>
<text x="1592.5" y="2310" text-anchor="middle">b</text>
<text x="1726.5" y="2131.7" text-anchor="middle">a</text>
<text x="1857.5" y="2264.2" text-anchor="middle">b</text>
<text x="1461.75" y="2718.5" text-anchor="middle">39#</text>
<text x="1593.75" y="2718.5" text-anchor="middle">21#</text>
<text x="1726.25" y="2718.5" text-anchor="middle">39#</text>
<text x="1857.5" y="2718.5" text-anchor="middle">21#</text>
<text x="1521.25" y="2822.5" text-anchor="middle">+P</text>
<text x="1796.25" y="2822.5" text-anchor="middle">−P</text>
<text class="t" x="1455.5" y="2954" textLength="420.5" lengthAdjust="spacing">处理 Treatments</text>
<text transform="translate(1152 2611) rotate(-90)" textLength="516" lengthAdjust="spacing" xml:space="preserve">根干质量/(g/plant)</text>
<text transform="translate(1221.5 2569.2) rotate(-90)" textLength="433.6" lengthAdjust="spacing" xml:space="preserve">Root dry weight</text>
<text class="t" x="1017.5" y="2332">H</text>
</g>
<g id="chartI">
<rect class="bd" x="2414.05" y="2199.05" width="82.9" height="460.95" stroke-width="5.1"/>
<rect class="bl" x="2547.05" y="2377.55" width="82.2" height="282.45" stroke-width="5.1"/>
<rect class="bd" x="2679.55" y="2529.85" width="81.7" height="130.15" stroke-width="5.1"/>
<rect class="bl" x="2811.55" y="2575.55" width="82.9" height="84.45" stroke-width="5.1"/>
<path class="eg" stroke-width="5" d="M2455 2199.5V2162.5M2441.6 2162.5H2468.4"/>
<path class="eg" stroke-width="5" d="M2588.5 2378V2340M2575.1 2340H2601.9"/>
<path class="eg" stroke-width="5" d="M2720 2530.3V2514M2706.6 2514H2733.4"/>
<path class="eg" stroke-width="5" d="M2852.5 2576V2565M2839.1 2565H2865.9"/>
<path class="ax" stroke-width="5.6" d="M2390 2036.5V2854.5M2387.5 2660.6H2922.5M2655 2660V2854.5M2920 2660V2854.5M2390 2039H2410M2390 2245H2410M2390 2452.5H2410"/>
<text x="2376" y="2065" text-anchor="end">1.2</text>
<text x="2376" y="2271" text-anchor="end">0.8</text>
<text x="2376" y="2478.5" text-anchor="end">0.4</text>
<text x="2376" y="2686" text-anchor="end">0.0</text>
<text x="2456" y="2151.5" text-anchor="middle">a</text>
<text x="2591.5" y="2328.5" text-anchor="middle">b</text>
<text x="2720" y="2501.5" text-anchor="middle">c</text>
<text x="2853.5" y="2550" text-anchor="middle">d</text>
<text x="2453.75" y="2720" text-anchor="middle">39#</text>
<text x="2584.25" y="2720" text-anchor="middle">21#</text>
<text x="2718.75" y="2720" text-anchor="middle">39#</text>
<text x="2848.75" y="2720" text-anchor="middle">21#</text>
<text x="2518.75" y="2822.5" text-anchor="middle">+P</text>
<text x="2793.75" y="2822.5" text-anchor="middle">−P</text>
<text class="t" x="2455.5" y="2954" textLength="421.5" lengthAdjust="spacing">处理 Treatments</text>
<text transform="translate(2167 2739.8) rotate(-90)" textLength="645.4" lengthAdjust="spacing" xml:space="preserve">地上部干质量/(g/plant)</text>
<text transform="translate(2237.5 2644.4) rotate(-90)" textLength="464.8" lengthAdjust="spacing" xml:space="preserve">Shoot dry weight</text>
<text class="t" x="2040" y="2414.5">I</text>
</g>
<g id="chartJ">
<rect class="bd" x="3412.05" y="2530.05" width="78.4" height="131.25" stroke-width="5.1"/>
<rect class="bl" x="3538.05" y="2531.05" width="77.4" height="130.25" stroke-width="5.1"/>
<rect class="bd" x="3663.05" y="2194.05" width="77.4" height="467.25" stroke-width="5.1"/>
<rect class="bl" x="3788.05" y="2162.05" width="77.9" height="499.25" stroke-width="5.1"/>
<path class="eg" stroke-width="5" d="M3452 2530.5V2495M3437 2495H3467"/>
<path class="eg" stroke-width="5" d="M3577 2531.5V2495M3562 2495H3592"/>
<path class="eg" stroke-width="5" d="M3702 2194.5V2177.5M3687 2177.5H3717"/>
<path class="eg" stroke-width="5" d="M3827 2162.5V2148.5M3812 2148.5H3842"/>
<path class="ax" stroke-width="5.6" d="M3389.8 2038.5V2857M3387.3 2661.9H3891.5M3638.7 2661.3V2857M3889 2661.3V2857M3389.8 2041H3414.8M3389.8 2196H3414.8M3389.8 2351.5H3414.8M3389.8 2506.5H3414.8"/>
<text x="3376.8" y="2065" text-anchor="end">0.8</text>
<text x="3376.8" y="2220" text-anchor="end">0.6</text>
<text x="3376.8" y="2375.5" text-anchor="end">0.4</text>
<text x="3376.8" y="2530.5" text-anchor="end">0.2</text>
<text x="3376.8" y="2685.3" text-anchor="end">0.0</text>
<text x="3452" y="2481.5" text-anchor="middle">b</text>
<text x="3578.5" y="2481.5" text-anchor="middle">b</text>
<text x="3705.5" y="2162.5" text-anchor="middle">a</text>
<text x="3830.5" y="2139" text-anchor="middle">a</text>
<text x="3452.5" y="2724.6" text-anchor="middle">39#</text>
<text x="3576.75" y="2724.6" text-anchor="middle">21#</text>
<text x="3703" y="2724.6" text-anchor="middle">39#</text>
<text x="3826.3" y="2724.6" text-anchor="middle">21#</text>
<text x="3518.75" y="2820.7" text-anchor="middle">+P</text>
<text x="3779.5" y="2820.7" text-anchor="middle">−P</text>
<text class="t" x="3455.5" y="2954" textLength="418.5" lengthAdjust="spacing">处理 Treatments</text>
<text transform="translate(3182 2450) rotate(-90)" textLength="187.8" lengthAdjust="spacing" xml:space="preserve">根冠比</text>
<text transform="translate(3251.3 2573.2) rotate(-90)" textLength="441.9" lengthAdjust="spacing" xml:space="preserve">Root/shoot ratio</text>
<text class="t" x="3065.5" y="2359">J</text>
</g>
</svg>
</body>
</html>
